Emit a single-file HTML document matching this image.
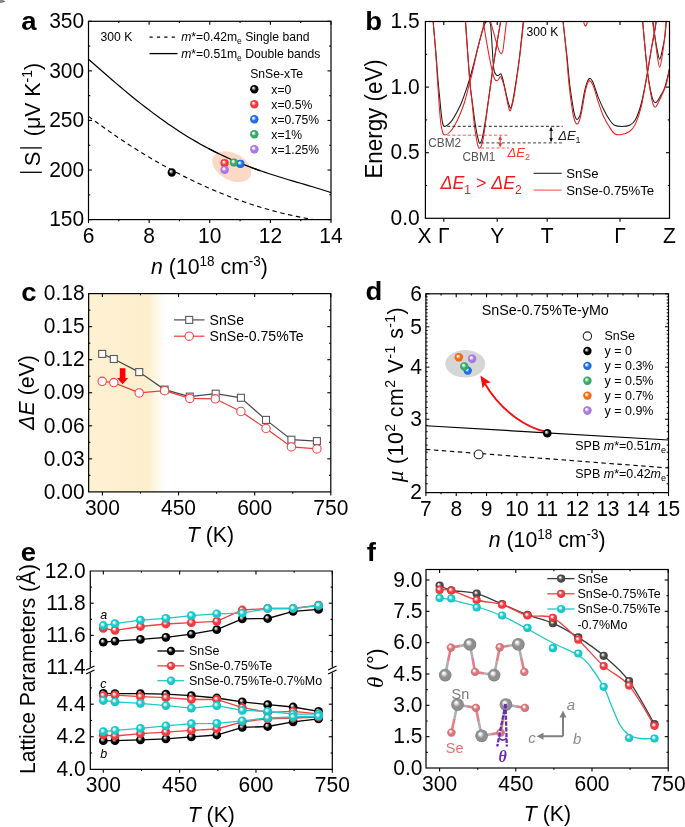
<!DOCTYPE html><html><head><meta charset="utf-8"><style>html,body{margin:0;padding:0;background:#fff;overflow:hidden}svg{display:block;will-change:transform}</style></head><body>
<svg width="685" height="827" viewBox="0 0 685 827" font-family='"Liberation Sans", sans-serif'>
<defs>
<radialGradient id="gk" cx="0.5" cy="0.5" r="0.5" fx="0.36" fy="0.32"><stop offset="0" stop-color="#e8e8e8"/><stop offset="0.12" stop-color="#e8e8e8"/><stop offset="0.3" stop-color="#8a8a8a"/><stop offset="0.55" stop-color="#000000"/><stop offset="0.88" stop-color="#000000"/><stop offset="1" stop-color="#000000"/></radialGradient>
<radialGradient id="gr" cx="0.5" cy="0.5" r="0.5" fx="0.36" fy="0.32"><stop offset="0" stop-color="#ffffff"/><stop offset="0.12" stop-color="#ffffff"/><stop offset="0.3" stop-color="#f8a8aa"/><stop offset="0.55" stop-color="#f03a3e"/><stop offset="0.88" stop-color="#f03a3e"/><stop offset="1" stop-color="#d92a2e"/></radialGradient>
<radialGradient id="gb" cx="0.5" cy="0.5" r="0.5" fx="0.36" fy="0.32"><stop offset="0" stop-color="#ffffff"/><stop offset="0.12" stop-color="#ffffff"/><stop offset="0.3" stop-color="#a5c6f5"/><stop offset="0.55" stop-color="#1c6de6"/><stop offset="0.88" stop-color="#1c6de6"/><stop offset="1" stop-color="#1258c8"/></radialGradient>
<radialGradient id="gg" cx="0.5" cy="0.5" r="0.5" fx="0.36" fy="0.32"><stop offset="0" stop-color="#ffffff"/><stop offset="0.12" stop-color="#ffffff"/><stop offset="0.3" stop-color="#b0e0c2"/><stop offset="0.55" stop-color="#35ab68"/><stop offset="0.88" stop-color="#35ab68"/><stop offset="1" stop-color="#248f52"/></radialGradient>
<radialGradient id="gp" cx="0.5" cy="0.5" r="0.5" fx="0.36" fy="0.32"><stop offset="0" stop-color="#ffffff"/><stop offset="0.12" stop-color="#ffffff"/><stop offset="0.3" stop-color="#e2d0f7"/><stop offset="0.55" stop-color="#ac78e4"/><stop offset="0.88" stop-color="#ac78e4"/><stop offset="1" stop-color="#9258d0"/></radialGradient>
<radialGradient id="go" cx="0.5" cy="0.5" r="0.5" fx="0.36" fy="0.32"><stop offset="0" stop-color="#ffffff"/><stop offset="0.12" stop-color="#ffffff"/><stop offset="0.3" stop-color="#fbc39a"/><stop offset="0.55" stop-color="#f66b12"/><stop offset="0.88" stop-color="#f66b12"/><stop offset="1" stop-color="#d85000"/></radialGradient>
<radialGradient id="gc" cx="0.5" cy="0.5" r="0.5" fx="0.36" fy="0.32"><stop offset="0" stop-color="#ffffff"/><stop offset="0.12" stop-color="#ffffff"/><stop offset="0.3" stop-color="#a8eeee"/><stop offset="0.55" stop-color="#18c9cc"/><stop offset="0.88" stop-color="#18c9cc"/><stop offset="1" stop-color="#0eb2b6"/></radialGradient>
<radialGradient id="gdg" cx="0.5" cy="0.5" r="0.5" fx="0.36" fy="0.32"><stop offset="0" stop-color="#eeeeee"/><stop offset="0.12" stop-color="#eeeeee"/><stop offset="0.3" stop-color="#a8a8a8"/><stop offset="0.55" stop-color="#484848"/><stop offset="0.88" stop-color="#484848"/><stop offset="1" stop-color="#303030"/></radialGradient>
<radialGradient id="gsn" cx="0.5" cy="0.5" r="0.5" fx="0.36" fy="0.32"><stop offset="0" stop-color="#ffffff"/><stop offset="0.12" stop-color="#ffffff"/><stop offset="0.3" stop-color="#d0d0d0"/><stop offset="0.55" stop-color="#8f8f8f"/><stop offset="0.88" stop-color="#8f8f8f"/><stop offset="1" stop-color="#6e6e6e"/></radialGradient>
<radialGradient id="gse" cx="0.5" cy="0.5" r="0.5" fx="0.36" fy="0.32"><stop offset="0" stop-color="#ffffff"/><stop offset="0.12" stop-color="#ffffff"/><stop offset="0.3" stop-color="#f2c2c6"/><stop offset="0.55" stop-color="#d8747c"/><stop offset="0.88" stop-color="#d8747c"/><stop offset="1" stop-color="#b85a62"/></radialGradient>
<linearGradient id="cream" x1="0" x2="1" y1="0" y2="0"><stop offset="0" stop-color="#fef1d3"/><stop offset="0.77" stop-color="#fdefcc"/><stop offset="1" stop-color="#fdf0cf" stop-opacity="0"/></linearGradient>
</defs>
<rect width="685" height="827" fill="#fff"/>
<ellipse cx="1.2" cy="1.3" rx="2.2" ry="1.6" fill="#8a8a8a"/><ellipse cx="3.6" cy="1.4" rx="1.3" ry="0.8" fill="#666"/>
<path d="M88.5,59.28 L92.5,62.79 L96.5,66.3 L100.5,69.8 L104.5,73.29 L108.5,76.75 L112.5,80.2 L116.5,83.61 L120.5,87 L124.5,90.35 L128.5,93.67 L132.5,96.95 L136.5,100.18 L140.5,103.36 L144.5,106.5 L148.5,109.58 L152.5,112.61 L156.5,115.58 L160.5,118.49 L164.5,121.35 L168.5,124.14 L172.5,126.87 L176.5,129.54 L180.5,132.14 L184.5,134.67 L188.5,137.14 L192.5,139.55 L196.5,141.88 L200.5,144.15 L204.5,146.36 L208.5,148.49 L212.5,150.57 L216.5,152.57 L220.5,154.52 L224.5,156.4 L228.5,158.22 L232.5,159.98 L236.5,161.68 L240.5,163.33 L244.5,164.92 L248.5,166.46 L252.5,167.95 L256.5,169.4 L260.5,170.8 L264.5,172.17 L268.5,173.49 L272.5,174.79 L276.5,176.05 L280.5,177.29 L284.5,178.5 L288.5,179.7 L292.5,180.88 L296.5,182.06 L300.5,183.23 L304.5,184.41 L308.5,185.59 L312.5,186.78 L316.5,187.99 L320.5,189.23 L324.5,190.49 L328.5,191.79 L331,192.62" fill="none" stroke="#000" stroke-width="1.2"/>
<path d="M88.5,116.35 L92.5,119.34 L96.5,122.29 L100.5,125.21 L104.5,128.07 L108.5,130.9 L112.5,133.68 L116.5,136.43 L120.5,139.13 L124.5,141.79 L128.5,144.4 L132.5,146.98 L136.5,149.51 L140.5,152 L144.5,154.45 L148.5,156.85 L152.5,159.22 L156.5,161.54 L160.5,163.82 L164.5,166.06 L168.5,168.26 L172.5,170.41 L176.5,172.52 L180.5,174.59 L184.5,176.62 L188.5,178.61 L192.5,180.55 L196.5,182.46 L200.5,184.32 L204.5,186.14 L208.5,187.91 L212.5,189.65 L216.5,191.34 L220.5,192.99 L224.5,194.6 L228.5,196.17 L232.5,197.69 L236.5,199.18 L240.5,200.62 L244.5,202.01 L248.5,203.37 L252.5,204.69 L256.5,205.96 L260.5,207.19 L264.5,208.38 L268.5,209.53 L272.5,210.63 L276.5,211.69 L280.5,212.72 L284.5,213.69 L288.5,214.63 L292.5,215.53 L296.5,216.38 L300.5,217.19 L304.5,217.96 L308.5,218.69 L312.5,219.37" fill="none" stroke="#000" stroke-width="1.15" stroke-dasharray="4.5,3.5"/>
<ellipse cx="231.8" cy="166.6" rx="21" ry="13.5" transform="rotate(28 231.8 166.6)" fill="#fcd8c6"/>
<path d="M208.5,148.49 L212.5,150.57 L216.5,152.57 L220.5,154.52 L224.5,156.4 L228.5,158.22 L232.5,159.98 L236.5,161.68 L240.5,163.33 L244.5,164.92 L248.5,166.46 L252.5,167.95 L256.5,169.4 L260.5,170.8" fill="none" stroke="#000" stroke-width="1.3"/>
<circle cx="171.8" cy="172.5" r="4.2" fill="url(#gk)"/>
<circle cx="224.6" cy="163.1" r="4.1" fill="url(#gr)"/>
<circle cx="224.6" cy="169.8" r="4.1" fill="url(#gp)"/>
<circle cx="240.4" cy="163.9" r="4.1" fill="url(#gb)"/>
<circle cx="233.9" cy="162.5" r="4.1" fill="url(#gg)"/>
<rect x="88.5" y="21.3" width="242.5" height="198.3" fill="none" stroke="#000" stroke-width="1.2"/>
<line x1="88.5" y1="219.6" x2="88.5" y2="223.1" stroke="#000" stroke-width="1.1" />
<line x1="88.5" y1="21.3" x2="88.5" y2="24.8" stroke="#000" stroke-width="1.1" />
<line x1="118.81" y1="219.6" x2="118.81" y2="221.35" stroke="#000" stroke-width="1.1" />
<line x1="118.81" y1="21.3" x2="118.81" y2="23.05" stroke="#000" stroke-width="1.1" />
<line x1="149.12" y1="219.6" x2="149.12" y2="223.1" stroke="#000" stroke-width="1.1" />
<line x1="149.12" y1="21.3" x2="149.12" y2="24.8" stroke="#000" stroke-width="1.1" />
<line x1="179.44" y1="219.6" x2="179.44" y2="221.35" stroke="#000" stroke-width="1.1" />
<line x1="179.44" y1="21.3" x2="179.44" y2="23.05" stroke="#000" stroke-width="1.1" />
<line x1="209.75" y1="219.6" x2="209.75" y2="223.1" stroke="#000" stroke-width="1.1" />
<line x1="209.75" y1="21.3" x2="209.75" y2="24.8" stroke="#000" stroke-width="1.1" />
<line x1="240.06" y1="219.6" x2="240.06" y2="221.35" stroke="#000" stroke-width="1.1" />
<line x1="240.06" y1="21.3" x2="240.06" y2="23.05" stroke="#000" stroke-width="1.1" />
<line x1="270.38" y1="219.6" x2="270.38" y2="223.1" stroke="#000" stroke-width="1.1" />
<line x1="270.38" y1="21.3" x2="270.38" y2="24.8" stroke="#000" stroke-width="1.1" />
<line x1="300.69" y1="219.6" x2="300.69" y2="221.35" stroke="#000" stroke-width="1.1" />
<line x1="300.69" y1="21.3" x2="300.69" y2="23.05" stroke="#000" stroke-width="1.1" />
<line x1="331" y1="219.6" x2="331" y2="223.1" stroke="#000" stroke-width="1.1" />
<line x1="331" y1="21.3" x2="331" y2="24.8" stroke="#000" stroke-width="1.1" />
<line x1="88.5" y1="219.6" x2="92" y2="219.6" stroke="#000" stroke-width="1.1" />
<line x1="331" y1="219.6" x2="327.5" y2="219.6" stroke="#000" stroke-width="1.1" />
<line x1="88.5" y1="194.81" x2="90.25" y2="194.81" stroke="#000" stroke-width="1.1" />
<line x1="331" y1="194.81" x2="329.25" y2="194.81" stroke="#000" stroke-width="1.1" />
<line x1="88.5" y1="170.02" x2="92" y2="170.02" stroke="#000" stroke-width="1.1" />
<line x1="331" y1="170.02" x2="327.5" y2="170.02" stroke="#000" stroke-width="1.1" />
<line x1="88.5" y1="145.24" x2="90.25" y2="145.24" stroke="#000" stroke-width="1.1" />
<line x1="331" y1="145.24" x2="329.25" y2="145.24" stroke="#000" stroke-width="1.1" />
<line x1="88.5" y1="120.45" x2="92" y2="120.45" stroke="#000" stroke-width="1.1" />
<line x1="331" y1="120.45" x2="327.5" y2="120.45" stroke="#000" stroke-width="1.1" />
<line x1="88.5" y1="95.66" x2="90.25" y2="95.66" stroke="#000" stroke-width="1.1" />
<line x1="331" y1="95.66" x2="329.25" y2="95.66" stroke="#000" stroke-width="1.1" />
<line x1="88.5" y1="70.88" x2="92" y2="70.88" stroke="#000" stroke-width="1.1" />
<line x1="331" y1="70.88" x2="327.5" y2="70.88" stroke="#000" stroke-width="1.1" />
<line x1="88.5" y1="46.09" x2="90.25" y2="46.09" stroke="#000" stroke-width="1.1" />
<line x1="331" y1="46.09" x2="329.25" y2="46.09" stroke="#000" stroke-width="1.1" />
<line x1="88.5" y1="21.3" x2="92" y2="21.3" stroke="#000" stroke-width="1.1" />
<line x1="331" y1="21.3" x2="327.5" y2="21.3" stroke="#000" stroke-width="1.1" />
<text transform="translate(88.5 242.63) scale(1 1.04)" font-size="21" text-anchor="middle" >6</text>
<text transform="translate(149.12 242.63) scale(1 1.04)" font-size="21" text-anchor="middle" >8</text>
<text transform="translate(209.75 242.63) scale(1 1.04)" font-size="21" text-anchor="middle" >10</text>
<text transform="translate(270.38 242.63) scale(1 1.04)" font-size="21" text-anchor="middle" >12</text>
<text transform="translate(331 242.63) scale(1 1.04)" font-size="21" text-anchor="middle" >14</text>
<text transform="translate(84.2 226.33) scale(1 1.04)" font-size="21" text-anchor="end" >150</text>
<text transform="translate(84.2 176.76) scale(1 1.04)" font-size="21" text-anchor="end" >200</text>
<text transform="translate(84.2 127.18) scale(1 1.04)" font-size="21" text-anchor="end" >250</text>
<text transform="translate(84.2 77.61) scale(1 1.04)" font-size="21" text-anchor="end" >300</text>
<text transform="translate(84.2 28.03) scale(1 1.04)" font-size="21" text-anchor="end" >350</text>
<text transform="translate(209.5 274.2) scale(1 1.03)" font-size="21.3" text-anchor="middle" ><tspan font-style="italic">n</tspan> (10<tspan font-size="13.5" dy="-8">18</tspan><tspan dy="8"> cm</tspan><tspan font-size="13.5" dy="-8">-3</tspan><tspan dy="8">)</tspan></text>
<g transform="translate(41.3 172.5) rotate(-90)"><line x1="0.2" y1="-21.2" x2="0.2" y2="0.5" stroke="#000" stroke-width="1.3"/><line x1="24.6" y1="-21.2" x2="24.6" y2="0.5" stroke="#000" stroke-width="1.3"/><text x="6.2" y="-1.0" font-size="22">S</text><text x="36.3" y="-1.0" font-size="21.3">(μV K<tspan font-size="14" dy="-8.3">-1</tspan><tspan dy="8.3">)</tspan></text></g>
<text transform="translate(36.6 30.1) scale(1.1 1)" font-size="25" text-anchor="end" font-weight="bold" >a</text>
<text transform="translate(100.4 41.3) scale(1 1.03)" font-size="12.2" >300 K</text>
<line x1="149.5" y1="37.2" x2="177.5" y2="37.2" stroke="#000" stroke-width="1.2" stroke-dasharray="3.2,4.2"/>
<line x1="149.5" y1="53.6" x2="177.5" y2="53.6" stroke="#000" stroke-width="1.3" />
<text transform="translate(181.2 41.3) scale(1 1.03)" font-size="12.2" ><tspan font-style="italic">m</tspan>*=0.42m<tspan font-size="8.5" dy="3">e</tspan><tspan dy="-3"> Single band</tspan></text>
<text transform="translate(181.2 57.7) scale(1 1.03)" font-size="12.2" ><tspan font-style="italic">m</tspan>*=0.51m<tspan font-size="8.5" dy="3">e</tspan><tspan dy="-3"> Double bands</tspan></text>
<text transform="translate(250.2 77.6) scale(1 1.03)" font-size="12.2" >SnSe-xTe</text>
<circle cx="254.3" cy="89.2" r="4.2" fill="url(#gk)"/>
<text transform="translate(271.3 93.5) scale(1 1.03)" font-size="12.2" >x=0</text>
<circle cx="254.3" cy="104.22" r="4.2" fill="url(#gr)"/>
<text transform="translate(271.3 108.52) scale(1 1.03)" font-size="12.2" >x=0.5%</text>
<circle cx="254.3" cy="119.24" r="4.2" fill="url(#gb)"/>
<text transform="translate(271.3 123.54) scale(1 1.03)" font-size="12.2" >x=0.75%</text>
<circle cx="254.3" cy="134.26" r="4.2" fill="url(#gg)"/>
<text transform="translate(271.3 138.56) scale(1 1.03)" font-size="12.2" >x=1%</text>
<circle cx="254.3" cy="149.28" r="4.2" fill="url(#gp)"/>
<text transform="translate(271.3 153.58) scale(1 1.03)" font-size="12.2" >x=1.25%</text>
<clipPath id="clipb"><rect x="425.4" y="21.5" width="244.1" height="196.8"/></clipPath>
<g clip-path="url(#clipb)" fill="none" stroke-width="1.05">
<path d="M432.9,10 C432.95,11.93 432.72,14.7 433.2,21.6 C433.68,28.5 435,41.67 435.8,51.4 C436.6,61.13 437.3,71.73 438,80 C438.7,88.27 439.42,95 440,101 C440.58,107 441,112.08 441.5,116 C442,119.92 442.47,122.77 443,124.5 C443.53,126.23 443.92,126.35 444.7,126.4 C445.48,126.45 446.5,125.77 447.7,124.8 C448.9,123.83 450.35,122.72 451.9,120.6 C453.45,118.48 455.3,115.33 457,112.1 C458.7,108.87 460.55,105 462.1,101.2 C463.65,97.4 465.02,93.08 466.3,89.3 C467.58,85.52 468.52,82.88 469.8,78.5 C471.08,74.12 472.63,68.25 474,63 C475.37,57.75 476.75,51.83 478,47 C479.25,42.17 480.4,37.78 481.5,34 C482.6,30.22 483.72,26.43 484.6,24.3 C485.48,22.17 486.08,21.77 486.8,21.2 C487.52,20.63 488.27,20.27 488.9,20.9 C489.53,21.53 490.1,21.45 490.6,25 C491.1,28.55 491.48,36.03 491.9,42.2 C492.32,48.37 492.7,57.12 493.1,62 C493.5,66.88 493.7,69.27 494.3,71.5 C494.9,73.73 495.95,74.78 496.7,75.4 C497.45,76.02 498.1,75.47 498.8,75.2 C499.5,74.93 500.28,73.33 500.9,73.8 C501.52,74.27 501.98,76.23 502.5,78 C503.02,79.77 503.25,81.12 504,84.4 C504.75,87.68 506.2,94.35 507,97.7 C507.8,101.05 508.23,102.78 508.8,104.5 C509.37,106.22 509.87,108 510.4,108 C510.93,108 511.37,107.02 512,104.5 C512.63,101.98 513.02,100.27 514.2,92.9 C515.38,85.53 517.58,72.18 519.1,60.3 C520.62,48.42 522.4,29.98 523.3,21.6 C524.2,13.22 524.3,11.93 524.5,10" stroke="#1a1a1a"/>
<path d="M464.8,10 C464.92,11.93 464.68,9.93 465.5,21.6 C466.32,33.27 468.58,66.73 469.7,80 C470.82,93.27 471.22,93.45 472.2,101.2 C473.18,108.95 474.53,119.88 475.6,126.5 C476.67,133.12 477.82,138.15 478.6,140.9 C479.38,143.65 479.67,143.57 480.3,143 C480.93,142.43 481.47,141.68 482.4,137.5 C483.33,133.32 484.22,128.97 485.9,117.9 C487.58,106.83 490.7,83.32 492.5,71.1 C494.3,58.88 495.37,52.78 496.7,44.6 C498.03,36.42 499.62,27.77 500.5,22 C501.38,16.23 501.75,12 502,10" stroke="#1a1a1a"/>
<path d="M562.3,10 C562.43,11.95 562.35,14.22 563.1,21.7 C563.85,29.18 565.7,44.47 566.8,54.9 C567.9,65.33 568.6,75.22 569.7,84.3 C570.8,93.38 572.47,103.95 573.4,109.4 C574.33,114.85 574.68,115.28 575.3,117 C575.92,118.72 576.5,119.62 577.1,119.7 C577.7,119.78 578.28,118.72 578.9,117.5 C579.52,116.28 579.87,116.7 580.8,112.4 C581.73,108.1 583.4,96.87 584.5,91.7 C585.6,86.53 586.47,83.62 587.4,81.4 C588.33,79.18 589.12,78.15 590.1,78.4 C591.08,78.65 592.02,79.95 593.3,82.9 C594.58,85.85 596.07,91.68 597.8,96.1 C599.53,100.52 601.75,105.47 603.7,109.4 C605.65,113.33 607.67,117.05 609.5,119.7 C611.33,122.35 612.6,124.17 614.7,125.3 C616.8,126.43 619.63,126.5 622.1,126.5 C624.57,126.5 627.28,126.43 629.5,125.3 C631.72,124.17 633.43,123.33 635.4,119.7 C637.37,116.07 639.33,111.12 641.3,103.5 C643.27,95.88 645.48,83.33 647.2,74 C648.92,64.67 650.38,54.38 651.6,47.5 C652.82,40.62 653.68,37.28 654.5,32.7 C655.32,28.12 655.92,23.78 656.5,20 C657.08,16.22 657.75,11.67 658,10" stroke="#1a1a1a"/>
<path d="M641.8,10 C641.95,11.95 641.8,11.77 642.7,21.7 C643.6,31.63 645.85,57.93 647.2,69.6 C648.55,81.27 649.83,86.63 650.8,91.7 C651.77,96.77 652.25,98.17 653,100 C653.75,101.83 654.5,102.62 655.3,102.7 C656.1,102.78 656.95,101.6 657.8,100.5 C658.65,99.4 659.23,98.3 660.4,96.1 C661.57,93.9 663.2,92.22 664.8,87.3 C666.4,82.38 668.8,71.98 670,66.6 C671.2,61.22 671.67,56.93 672,55" stroke="#1a1a1a"/>
<path d="M652,10 C652.17,11.95 652.58,17.67 653,21.7 C653.42,25.73 653.8,29.48 654.5,34.2 C655.2,38.92 656.33,45.82 657.2,50 C658.07,54.18 658.85,59.3 659.7,59.3 C660.55,59.3 661.45,53.68 662.3,50 C663.15,46.32 664.13,41.92 664.8,37.2 C665.47,32.48 665.93,26.23 666.3,21.7 C666.67,17.17 666.88,11.95 667,10" stroke="#1a1a1a"/>
<path d="M432.9,10 C432.95,11.93 432.75,14.7 433.2,21.6 C433.65,28.5 434.88,41.67 435.6,51.4 C436.32,61.13 436.9,71 437.5,80 C438.1,89 438.63,98.07 439.2,105.4 C439.77,112.73 440.27,119.35 440.9,124 C441.53,128.65 442.28,131.47 443,133.3 C443.72,135.13 444.13,135.13 445.2,135 C446.27,134.87 447.85,134.05 449.4,132.5 C450.95,130.95 452.82,128.53 454.5,125.7 C456.18,122.87 457.82,119.45 459.5,115.5 C461.18,111.55 462.97,107.22 464.6,102 C466.23,96.78 468.15,88.53 469.3,84.2 C470.45,79.87 470.05,82.12 471.5,76 C472.95,69.88 475.88,56.33 478,47.5 C480.12,38.67 482.87,28.58 484.2,23 C485.53,17.42 485.7,15.5 486,14" stroke="#ee1c1c"/>
<path d="M482.8,10 C482.9,11.93 482.58,15.23 483.4,21.6 C484.22,27.97 486.18,39.75 487.7,48.2 C489.22,56.65 491.3,67.07 492.5,72.3 C493.7,77.53 494.2,78.22 494.9,79.6 C495.6,80.98 496.1,80.62 496.7,80.6 C497.3,80.58 497.9,80.17 498.5,79.5 C499.1,78.83 499.68,76.52 500.3,76.6 C500.92,76.68 501.58,78.5 502.2,80 C502.82,81.5 503.2,82.25 504,85.6 C504.8,88.95 506.22,96.45 507,100.1 C507.78,103.75 508.2,105.68 508.7,107.5 C509.2,109.32 509.53,111 510,111 C510.47,111 510.8,110.12 511.5,107.5 C512.2,104.88 512.93,102.97 514.2,95.3 C515.47,87.63 517.52,73.78 519.1,61.5 C520.68,49.22 522.72,30.18 523.7,21.6 C524.68,13.02 524.78,11.93 525,10" stroke="#ee1c1c"/>
<path d="M464.8,10 C464.92,11.93 464.68,9.93 465.5,21.6 C466.32,33.27 468.62,66.6 469.7,80 C470.78,93.4 471.2,94.33 472,102 C472.8,109.67 473.75,119.8 474.5,126 C475.25,132.2 475.75,135.52 476.5,139.2 C477.25,142.88 478.02,147.53 479,148.1 C479.98,148.67 481.25,147.28 482.4,142.6 C483.55,137.92 484.22,131.92 485.9,120 C487.58,108.08 490.7,83.67 492.5,71.1 C494.3,58.53 495.37,52.78 496.7,44.6 C498.03,36.42 499.62,27.77 500.5,22 C501.38,16.23 501.75,12 502,10" stroke="#ee1c1c"/>
<path d="M490,10 C490.12,11.93 490.12,17.93 490.7,21.6 C491.28,25.27 492.5,28.37 493.5,32 C494.5,35.63 495.7,40.15 496.7,43.4 C497.7,46.65 498.68,49.8 499.5,51.5 C500.32,53.2 501.02,53.85 501.6,53.6 C502.18,53.35 502.6,51.9 503,50 C503.4,48.1 503.43,46.93 504,42.2 C504.57,37.47 505.9,26.97 506.4,21.6 C506.9,16.23 506.9,11.93 507,10" stroke="#ee1c1c"/>
<path d="M562.3,10 C562.43,11.95 562.4,14.22 563.1,21.7 C563.8,29.18 565.52,44.47 566.5,54.9 C567.48,65.33 567.97,74.72 569,84.3 C570.03,93.88 571.7,106.2 572.7,112.4 C573.7,118.6 574.27,119.55 575,121.5 C575.73,123.45 576.38,124.18 577.1,124.1 C577.82,124.02 578.57,122.95 579.3,121 C580.03,119.05 580.52,117.28 581.5,112.4 C582.48,107.52 584.2,96.52 585.2,91.7 C586.2,86.88 586.77,85.33 587.5,83.5 C588.23,81.67 588.63,80.32 589.6,80.7 C590.57,81.08 591.93,82.48 593.3,85.8 C594.67,89.12 596.07,95.43 597.8,100.6 C599.53,105.77 601.75,112.38 603.7,116.8 C605.65,121.22 607.67,124.28 609.5,127.1 C611.33,129.92 612.85,132.43 614.7,133.7 C616.55,134.97 618.13,135.07 620.6,134.7 C623.07,134.33 627.03,133.27 629.5,131.5 C631.97,129.73 633.43,128.28 635.4,124.1 C637.37,119.92 639.33,114.75 641.3,106.4 C643.27,98.05 645.48,83.82 647.2,74 C648.92,64.18 650.38,54.67 651.6,47.5 C652.82,40.33 653.68,35.92 654.5,31 C655.32,26.08 655.92,21.5 656.5,18 C657.08,14.5 657.75,11.33 658,10" stroke="#ee1c1c"/>
<path d="M641.8,10 C641.95,11.95 641.8,11.77 642.7,21.7 C643.6,31.63 645.85,57.55 647.2,69.6 C648.55,81.65 649.83,88.27 650.8,94 C651.77,99.73 652.25,101.8 653,104 C653.75,106.2 654.5,107.28 655.3,107.2 C656.1,107.12 656.95,104.98 657.8,103.5 C658.65,102.02 658.98,101.5 660.4,98.3 C661.82,95.1 664.7,89.68 666.3,84.3 C667.9,78.92 669.05,70.88 670,66 C670.95,61.12 671.67,56.83 672,55" stroke="#ee1c1c"/>
<path d="M651.5,10 C651.67,11.95 651.95,17.37 652.5,21.7 C653.05,26.03 654,30.28 654.8,36 C655.6,41.72 656.48,50.77 657.3,56 C658.12,61.23 658.88,67.4 659.7,67.4 C660.52,67.4 661.38,60.9 662.2,56 C663.02,51.1 663.97,43.72 664.6,38 C665.23,32.28 665.6,26.37 666,21.7 C666.4,17.03 666.83,11.95 667,10" stroke="#ee1c1c"/>
<path d="M583,15 C583.12,16.12 583.43,20.03 583.7,21.7 C583.97,23.37 584.3,24.27 584.6,25 C584.9,25.73 585.2,26.1 585.5,26.1 C585.8,26.1 586.08,25.73 586.4,25 C586.72,24.27 587.13,23.37 587.4,21.7 C587.67,20.03 587.9,16.12 588,15" stroke="#ee1c1c"/>
</g>
<line x1="447.2" y1="126.3" x2="562.8" y2="126.3" stroke="#222" stroke-width="1" stroke-dasharray="3,2.2"/>
<line x1="481" y1="142.9" x2="562.8" y2="142.9" stroke="#444" stroke-width="1" stroke-dasharray="3,2.2"/>
<line x1="447.2" y1="135.2" x2="509.1" y2="135.2" stroke="#f55" stroke-width="1" stroke-dasharray="3,2.2"/>
<line x1="481" y1="148" x2="509.1" y2="148" stroke="#f55" stroke-width="1" stroke-dasharray="3,2.2"/>
<path d="M551.1,128.1 V141.1" stroke="#111" stroke-width="1.1" fill="none"/>
<path d="M551.1,126.6 L549.3,131.1 L552.9,131.1 Z M551.1,142.6 L549.3,138.1 L552.9,138.1 Z" fill="#111"/>
<path d="M500.2,137 V146.2" stroke="#e33" stroke-width="1.1" fill="none"/>
<path d="M500.2,135.5 L498.4,140 L502,140 Z M500.2,147.7 L498.4,143.2 L502,143.2 Z" fill="#e33"/>
<text transform="translate(558.2 140) scale(1 1.03)" font-size="13" fill="#222" ><tspan font-style="italic">ΔE</tspan><tspan font-size="9" dy="3">1</tspan></text>
<text transform="translate(507.5 157.4) scale(1 1.03)" font-size="13" fill="#f33" ><tspan font-style="italic">ΔE</tspan><tspan font-size="9" dy="3">2</tspan></text>
<text transform="translate(428.3 146.8) scale(1 1.03)" font-size="11.8" fill="#555" >CBM2</text>
<text transform="translate(462.6 160.8) scale(1 1.03)" font-size="11.8" fill="#555" >CBM1</text>
<text transform="translate(440.5 189.4) scale(1 1.03)" font-size="17.8" fill="#f01818" ><tspan font-style="italic">ΔE</tspan><tspan font-size="12" dy="4.5">1</tspan><tspan dy="-4.5"> &gt; </tspan><tspan font-style="italic">ΔE</tspan><tspan font-size="12" dy="4.5">2</tspan></text>
<text transform="translate(526.5 36.1) scale(1 1.03)" font-size="12.2" >300 K</text>
<line x1="533.6" y1="173.3" x2="561.7" y2="173.3" stroke="#111" stroke-width="1" />
<line x1="533.6" y1="190.1" x2="561.7" y2="190.1" stroke="#f55" stroke-width="1.1" />
<text transform="translate(566.3 178.3) scale(1 1.03)" font-size="13.2" >SnSe</text>
<text transform="translate(566.3 195.3) scale(1 1.03)" font-size="13.2" >SnSe-0.75%Te</text>
<rect x="425.4" y="21.5" width="244.1" height="196.8" fill="none" stroke="#000" stroke-width="1.2"/>
<line x1="443.8" y1="218.3" x2="443.8" y2="221.8" stroke="#000" stroke-width="1.1" />
<line x1="443.8" y1="21.5" x2="443.8" y2="25" stroke="#000" stroke-width="1.1" />
<line x1="497.2" y1="218.3" x2="497.2" y2="221.8" stroke="#000" stroke-width="1.1" />
<line x1="497.2" y1="21.5" x2="497.2" y2="25" stroke="#000" stroke-width="1.1" />
<line x1="547.2" y1="218.3" x2="547.2" y2="221.8" stroke="#000" stroke-width="1.1" />
<line x1="547.2" y1="21.5" x2="547.2" y2="25" stroke="#000" stroke-width="1.1" />
<line x1="620" y1="218.3" x2="620" y2="221.8" stroke="#000" stroke-width="1.1" />
<line x1="620" y1="21.5" x2="620" y2="25" stroke="#000" stroke-width="1.1" />
<line x1="425.4" y1="185.5" x2="427.15" y2="185.5" stroke="#000" stroke-width="1.1" />
<line x1="669.5" y1="185.5" x2="667.75" y2="185.5" stroke="#000" stroke-width="1.1" />
<line x1="425.4" y1="152.7" x2="428.9" y2="152.7" stroke="#000" stroke-width="1.1" />
<line x1="669.5" y1="152.7" x2="666" y2="152.7" stroke="#000" stroke-width="1.1" />
<line x1="425.4" y1="119.9" x2="427.15" y2="119.9" stroke="#000" stroke-width="1.1" />
<line x1="669.5" y1="119.9" x2="667.75" y2="119.9" stroke="#000" stroke-width="1.1" />
<line x1="425.4" y1="87.1" x2="428.9" y2="87.1" stroke="#000" stroke-width="1.1" />
<line x1="669.5" y1="87.1" x2="666" y2="87.1" stroke="#000" stroke-width="1.1" />
<line x1="425.4" y1="54.3" x2="427.15" y2="54.3" stroke="#000" stroke-width="1.1" />
<line x1="669.5" y1="54.3" x2="667.75" y2="54.3" stroke="#000" stroke-width="1.1" />
<text transform="translate(419.8 225.03) scale(1 1.04)" font-size="21" text-anchor="end" >0.0</text>
<text transform="translate(419.8 159.43) scale(1 1.04)" font-size="21" text-anchor="end" >0.5</text>
<text transform="translate(419.8 93.83) scale(1 1.04)" font-size="21" text-anchor="end" >1.0</text>
<text transform="translate(419.8 28.23) scale(1 1.04)" font-size="21" text-anchor="end" >1.5</text>
<text transform="translate(424.5 243.4) scale(1 1.06)" font-size="21" text-anchor="middle" >X</text>
<text transform="translate(443.8 243.4) scale(1 1.06)" font-size="21" text-anchor="middle" >Γ</text>
<text transform="translate(497.2 243.4) scale(1 1.06)" font-size="21" text-anchor="middle" >Y</text>
<text transform="translate(547.2 243.4) scale(1 1.06)" font-size="21" text-anchor="middle" >T</text>
<text transform="translate(620 243.4) scale(1 1.06)" font-size="21" text-anchor="middle" >Γ</text>
<text transform="translate(669.5 243.4) scale(1 1.06)" font-size="21" text-anchor="middle" >Z</text>
<text transform="translate(382 118.9) rotate(-90) scale(1 1.03)" font-size="22.4" text-anchor="middle">Energy (eV)</text>
<text transform="translate(382 30.3) scale(1.1 1)" font-size="25" text-anchor="end" font-weight="bold" >b</text>
<rect x="88.65" y="293.6" width="76.85" height="198.3" fill="url(#cream)"/>
<path d="M102.2,353.9 L113.8,359 L139.2,372.1 L164.6,389.6 L189.8,396.6 L215.7,393.7 L240.9,397.8 L266,419.9 L291.4,439.7 L316.9,441.1" fill="none" stroke="#4a4a4a" stroke-width="1.2"/>
<path d="M102.2,381.3 L113.8,382.6 L139.2,392.9 L164.6,390.7 L189.8,398.4 L215.3,398.8 L240.9,411.5 L266,428.5 L291.4,446.9 L316.9,448.9" fill="none" stroke="#f03a3a" stroke-width="1.2"/>
<rect x="98.7" y="350.4" width="7" height="7" fill="#fff" stroke="#5a5a5a" stroke-width="1.1"/>
<rect x="110.3" y="355.5" width="7" height="7" fill="#fff" stroke="#5a5a5a" stroke-width="1.1"/>
<rect x="135.7" y="368.6" width="7" height="7" fill="#fff" stroke="#5a5a5a" stroke-width="1.1"/>
<rect x="161.1" y="386.1" width="7" height="7" fill="#fff" stroke="#5a5a5a" stroke-width="1.1"/>
<rect x="186.3" y="393.1" width="7" height="7" fill="#fff" stroke="#5a5a5a" stroke-width="1.1"/>
<rect x="212.2" y="390.2" width="7" height="7" fill="#fff" stroke="#5a5a5a" stroke-width="1.1"/>
<rect x="237.4" y="394.3" width="7" height="7" fill="#fff" stroke="#5a5a5a" stroke-width="1.1"/>
<rect x="262.5" y="416.4" width="7" height="7" fill="#fff" stroke="#5a5a5a" stroke-width="1.1"/>
<rect x="287.9" y="436.2" width="7" height="7" fill="#fff" stroke="#5a5a5a" stroke-width="1.1"/>
<rect x="313.4" y="437.6" width="7" height="7" fill="#fff" stroke="#5a5a5a" stroke-width="1.1"/>
<circle cx="102.2" cy="381.3" r="4.2" fill="#fff" stroke="#f04848" stroke-width="1.1"/>
<circle cx="113.8" cy="382.6" r="4.2" fill="#fff" stroke="#f04848" stroke-width="1.1"/>
<circle cx="139.2" cy="392.9" r="4.2" fill="#fff" stroke="#f04848" stroke-width="1.1"/>
<circle cx="164.6" cy="390.7" r="4.2" fill="#fff" stroke="#f04848" stroke-width="1.1"/>
<circle cx="189.8" cy="398.4" r="4.2" fill="#fff" stroke="#f04848" stroke-width="1.1"/>
<circle cx="215.3" cy="398.8" r="4.2" fill="#fff" stroke="#f04848" stroke-width="1.1"/>
<circle cx="240.9" cy="411.5" r="4.2" fill="#fff" stroke="#f04848" stroke-width="1.1"/>
<circle cx="266" cy="428.5" r="4.2" fill="#fff" stroke="#f04848" stroke-width="1.1"/>
<circle cx="291.4" cy="446.9" r="4.2" fill="#fff" stroke="#f04848" stroke-width="1.1"/>
<circle cx="316.9" cy="448.9" r="4.2" fill="#fff" stroke="#f04848" stroke-width="1.1"/>
<path d="M119.8,368.2 H125.4 V378.1 H128.2 L122.6,384.3 L117.1,378.1 H119.8 Z" fill="#ff0000"/>
<line x1="174" y1="319.9" x2="204.4" y2="319.9" stroke="#4a4a4a" stroke-width="1.2" />
<rect x="185.7" y="316.4" width="7" height="7" fill="#fff" stroke="#5a5a5a" stroke-width="1.1"/>
<line x1="174" y1="336.2" x2="204.4" y2="336.2" stroke="#f03a3a" stroke-width="1.2" />
<circle cx="189.2" cy="336.2" r="4.2" fill="#fff" stroke="#f04848" stroke-width="1.1"/>
<text transform="translate(209.6 324.5) scale(1 1.03)" font-size="14.1" >SnSe</text>
<text transform="translate(209.6 340.8) scale(1 1.03)" font-size="14.1" >SnSe-0.75%Te</text>
<rect x="88.65" y="293.6" width="242.15" height="198.3" fill="none" stroke="#000" stroke-width="1.2"/>
<line x1="102.4" y1="491.9" x2="102.4" y2="495.4" stroke="#000" stroke-width="1.1" />
<line x1="102.4" y1="293.6" x2="102.4" y2="297.1" stroke="#000" stroke-width="1.1" />
<line x1="140.47" y1="491.9" x2="140.47" y2="493.65" stroke="#000" stroke-width="1.1" />
<line x1="140.47" y1="293.6" x2="140.47" y2="295.35" stroke="#000" stroke-width="1.1" />
<line x1="178.53" y1="491.9" x2="178.53" y2="495.4" stroke="#000" stroke-width="1.1" />
<line x1="178.53" y1="293.6" x2="178.53" y2="297.1" stroke="#000" stroke-width="1.1" />
<line x1="216.6" y1="491.9" x2="216.6" y2="493.65" stroke="#000" stroke-width="1.1" />
<line x1="216.6" y1="293.6" x2="216.6" y2="295.35" stroke="#000" stroke-width="1.1" />
<line x1="254.67" y1="491.9" x2="254.67" y2="495.4" stroke="#000" stroke-width="1.1" />
<line x1="254.67" y1="293.6" x2="254.67" y2="297.1" stroke="#000" stroke-width="1.1" />
<line x1="292.73" y1="491.9" x2="292.73" y2="493.65" stroke="#000" stroke-width="1.1" />
<line x1="292.73" y1="293.6" x2="292.73" y2="295.35" stroke="#000" stroke-width="1.1" />
<line x1="330.8" y1="491.9" x2="330.8" y2="495.4" stroke="#000" stroke-width="1.1" />
<line x1="330.8" y1="293.6" x2="330.8" y2="297.1" stroke="#000" stroke-width="1.1" />
<line x1="88.65" y1="475.38" x2="90.4" y2="475.38" stroke="#000" stroke-width="1.1" />
<line x1="330.8" y1="475.38" x2="329.05" y2="475.38" stroke="#000" stroke-width="1.1" />
<line x1="88.65" y1="458.85" x2="92.15" y2="458.85" stroke="#000" stroke-width="1.1" />
<line x1="330.8" y1="458.85" x2="327.3" y2="458.85" stroke="#000" stroke-width="1.1" />
<line x1="88.65" y1="442.32" x2="90.4" y2="442.32" stroke="#000" stroke-width="1.1" />
<line x1="330.8" y1="442.32" x2="329.05" y2="442.32" stroke="#000" stroke-width="1.1" />
<line x1="88.65" y1="425.8" x2="92.15" y2="425.8" stroke="#000" stroke-width="1.1" />
<line x1="330.8" y1="425.8" x2="327.3" y2="425.8" stroke="#000" stroke-width="1.1" />
<line x1="88.65" y1="409.27" x2="90.4" y2="409.27" stroke="#000" stroke-width="1.1" />
<line x1="330.8" y1="409.27" x2="329.05" y2="409.27" stroke="#000" stroke-width="1.1" />
<line x1="88.65" y1="392.75" x2="92.15" y2="392.75" stroke="#000" stroke-width="1.1" />
<line x1="330.8" y1="392.75" x2="327.3" y2="392.75" stroke="#000" stroke-width="1.1" />
<line x1="88.65" y1="376.23" x2="90.4" y2="376.23" stroke="#000" stroke-width="1.1" />
<line x1="330.8" y1="376.23" x2="329.05" y2="376.23" stroke="#000" stroke-width="1.1" />
<line x1="88.65" y1="359.7" x2="92.15" y2="359.7" stroke="#000" stroke-width="1.1" />
<line x1="330.8" y1="359.7" x2="327.3" y2="359.7" stroke="#000" stroke-width="1.1" />
<line x1="88.65" y1="343.18" x2="90.4" y2="343.18" stroke="#000" stroke-width="1.1" />
<line x1="330.8" y1="343.18" x2="329.05" y2="343.18" stroke="#000" stroke-width="1.1" />
<line x1="88.65" y1="326.65" x2="92.15" y2="326.65" stroke="#000" stroke-width="1.1" />
<line x1="330.8" y1="326.65" x2="327.3" y2="326.65" stroke="#000" stroke-width="1.1" />
<line x1="88.65" y1="310.12" x2="90.4" y2="310.12" stroke="#000" stroke-width="1.1" />
<line x1="330.8" y1="310.12" x2="329.05" y2="310.12" stroke="#000" stroke-width="1.1" />
<text transform="translate(102.4 514.93) scale(1 1.04)" font-size="21" text-anchor="middle" >300</text>
<text transform="translate(178.53 514.93) scale(1 1.04)" font-size="21" text-anchor="middle" >450</text>
<text transform="translate(254.67 514.93) scale(1 1.04)" font-size="21" text-anchor="middle" >600</text>
<text transform="translate(330.8 514.93) scale(1 1.04)" font-size="21" text-anchor="middle" >750</text>
<text transform="translate(84.6 498.63) scale(1 1.04)" font-size="21" text-anchor="end" >0.00</text>
<text transform="translate(84.6 465.58) scale(1 1.04)" font-size="21" text-anchor="end" >0.03</text>
<text transform="translate(84.6 432.53) scale(1 1.04)" font-size="21" text-anchor="end" >0.06</text>
<text transform="translate(84.6 399.48) scale(1 1.04)" font-size="21" text-anchor="end" >0.09</text>
<text transform="translate(84.6 366.43) scale(1 1.04)" font-size="21" text-anchor="end" >0.12</text>
<text transform="translate(84.6 333.38) scale(1 1.04)" font-size="21" text-anchor="end" >0.15</text>
<text transform="translate(84.6 300.33) scale(1 1.04)" font-size="21" text-anchor="end" >0.18</text>
<text transform="translate(210.5 541.6) scale(1 1.03)" font-size="21.3" text-anchor="middle" ><tspan font-style="italic">T</tspan> (K)</text>
<text transform="translate(33.5 392.4) rotate(-90) scale(1 1.03)" font-size="21.3" text-anchor="middle"><tspan font-style="italic">ΔE</tspan> (eV)</text>
<text transform="translate(36.6 300.5) scale(1.1 1)" font-size="25" text-anchor="end" font-weight="bold" >c</text>
<line x1="425.9" y1="425.75" x2="668.5" y2="440" stroke="#000" stroke-width="1.2" />
<line x1="425.9" y1="449.4" x2="668.5" y2="468" stroke="#000" stroke-width="1.15" stroke-dasharray="4.5,3.5"/>
<ellipse cx="465.2" cy="363.8" rx="20" ry="13.7" fill="#d6d6d6"/>
<circle cx="458.8" cy="357.3" r="4.2" fill="url(#go)"/>
<circle cx="472.1" cy="358.8" r="4.2" fill="url(#gp)"/>
<circle cx="467.7" cy="370.6" r="4.2" fill="url(#gb)"/>
<circle cx="464.3" cy="366.4" r="4.2" fill="url(#gg)"/>
<path d="M546,431.8 C528,428 502,413 484.5,383" fill="none" stroke="#f51010" stroke-width="1.9"/>
<path d="M480.4,375.6 L490.8,382.6 L485.6,383.6 L482.6,388.4 Z" fill="#f51010"/>
<circle cx="547.3" cy="433.3" r="4.3" fill="url(#gk)"/>
<circle cx="478.6" cy="454.4" r="4.4" fill="#fff" stroke="#222" stroke-width="1.1"/>
<text transform="translate(666 450.3) scale(1 1.03)" font-size="12.5" text-anchor="end" >SPB <tspan font-style="italic">m</tspan>*=0.51<tspan font-style="italic">m</tspan><tspan font-size="9" dy="3">e</tspan></text>
<text transform="translate(666 478.3) scale(1 1.03)" font-size="12.5" text-anchor="end" >SPB <tspan font-style="italic">m</tspan>*=0.42<tspan font-style="italic">m</tspan><tspan font-size="9" dy="3">e</tspan></text>
<text transform="translate(545.2 315.4) scale(1 1.03)" font-size="14.3" text-anchor="middle" >SnSe-0.75%Te-yMo</text>
<circle cx="587.4" cy="336.1" r="4.2" fill="#fff" stroke="#222" stroke-width="1.1"/>
<text transform="translate(604.5 340.4) scale(1 1.03)" font-size="12.5" >SnSe</text>
<circle cx="587.4" cy="350.98" r="4.2" fill="url(#gk)"/>
<text transform="translate(604.5 355.28) scale(1 1.03)" font-size="12.5" >y = 0</text>
<circle cx="587.4" cy="365.86" r="4.2" fill="url(#gb)"/>
<text transform="translate(604.5 370.16) scale(1 1.03)" font-size="12.5" >y = 0.3%</text>
<circle cx="587.4" cy="380.74" r="4.2" fill="url(#gg)"/>
<text transform="translate(604.5 385.04) scale(1 1.03)" font-size="12.5" >y = 0.5%</text>
<circle cx="587.4" cy="395.62" r="4.2" fill="url(#go)"/>
<text transform="translate(604.5 399.92) scale(1 1.03)" font-size="12.5" >y = 0.7%</text>
<circle cx="587.4" cy="410.5" r="4.2" fill="url(#gp)"/>
<text transform="translate(604.5 414.8) scale(1 1.03)" font-size="12.5" >y = 0.9%</text>
<rect x="425.9" y="293.8" width="242.6" height="198.8" fill="none" stroke="#000" stroke-width="1.2"/>
<line x1="425.9" y1="492.6" x2="425.9" y2="496.1" stroke="#000" stroke-width="1.1" />
<line x1="425.9" y1="293.8" x2="425.9" y2="297.3" stroke="#000" stroke-width="1.1" />
<line x1="441.06" y1="492.6" x2="441.06" y2="494.35" stroke="#000" stroke-width="1.1" />
<line x1="441.06" y1="293.8" x2="441.06" y2="295.55" stroke="#000" stroke-width="1.1" />
<line x1="456.22" y1="492.6" x2="456.22" y2="496.1" stroke="#000" stroke-width="1.1" />
<line x1="456.22" y1="293.8" x2="456.22" y2="297.3" stroke="#000" stroke-width="1.1" />
<line x1="471.39" y1="492.6" x2="471.39" y2="494.35" stroke="#000" stroke-width="1.1" />
<line x1="471.39" y1="293.8" x2="471.39" y2="295.55" stroke="#000" stroke-width="1.1" />
<line x1="486.55" y1="492.6" x2="486.55" y2="496.1" stroke="#000" stroke-width="1.1" />
<line x1="486.55" y1="293.8" x2="486.55" y2="297.3" stroke="#000" stroke-width="1.1" />
<line x1="501.71" y1="492.6" x2="501.71" y2="494.35" stroke="#000" stroke-width="1.1" />
<line x1="501.71" y1="293.8" x2="501.71" y2="295.55" stroke="#000" stroke-width="1.1" />
<line x1="516.88" y1="492.6" x2="516.88" y2="496.1" stroke="#000" stroke-width="1.1" />
<line x1="516.88" y1="293.8" x2="516.88" y2="297.3" stroke="#000" stroke-width="1.1" />
<line x1="532.04" y1="492.6" x2="532.04" y2="494.35" stroke="#000" stroke-width="1.1" />
<line x1="532.04" y1="293.8" x2="532.04" y2="295.55" stroke="#000" stroke-width="1.1" />
<line x1="547.2" y1="492.6" x2="547.2" y2="496.1" stroke="#000" stroke-width="1.1" />
<line x1="547.2" y1="293.8" x2="547.2" y2="297.3" stroke="#000" stroke-width="1.1" />
<line x1="562.36" y1="492.6" x2="562.36" y2="494.35" stroke="#000" stroke-width="1.1" />
<line x1="562.36" y1="293.8" x2="562.36" y2="295.55" stroke="#000" stroke-width="1.1" />
<line x1="577.52" y1="492.6" x2="577.52" y2="496.1" stroke="#000" stroke-width="1.1" />
<line x1="577.52" y1="293.8" x2="577.52" y2="297.3" stroke="#000" stroke-width="1.1" />
<line x1="592.69" y1="492.6" x2="592.69" y2="494.35" stroke="#000" stroke-width="1.1" />
<line x1="592.69" y1="293.8" x2="592.69" y2="295.55" stroke="#000" stroke-width="1.1" />
<line x1="607.85" y1="492.6" x2="607.85" y2="496.1" stroke="#000" stroke-width="1.1" />
<line x1="607.85" y1="293.8" x2="607.85" y2="297.3" stroke="#000" stroke-width="1.1" />
<line x1="623.01" y1="492.6" x2="623.01" y2="494.35" stroke="#000" stroke-width="1.1" />
<line x1="623.01" y1="293.8" x2="623.01" y2="295.55" stroke="#000" stroke-width="1.1" />
<line x1="638.17" y1="492.6" x2="638.17" y2="496.1" stroke="#000" stroke-width="1.1" />
<line x1="638.17" y1="293.8" x2="638.17" y2="297.3" stroke="#000" stroke-width="1.1" />
<line x1="653.34" y1="492.6" x2="653.34" y2="494.35" stroke="#000" stroke-width="1.1" />
<line x1="653.34" y1="293.8" x2="653.34" y2="295.55" stroke="#000" stroke-width="1.1" />
<line x1="668.5" y1="492.6" x2="668.5" y2="496.1" stroke="#000" stroke-width="1.1" />
<line x1="668.5" y1="293.8" x2="668.5" y2="297.3" stroke="#000" stroke-width="1.1" />
<line x1="425.9" y1="492.6" x2="429.4" y2="492.6" stroke="#000" stroke-width="1" />
<line x1="668.5" y1="492.6" x2="665" y2="492.6" stroke="#000" stroke-width="1" />
<line x1="425.9" y1="483.77" x2="427.7" y2="483.77" stroke="#000" stroke-width="1" />
<line x1="668.5" y1="483.77" x2="666.7" y2="483.77" stroke="#000" stroke-width="1" />
<line x1="425.9" y1="475.35" x2="427.7" y2="475.35" stroke="#000" stroke-width="1" />
<line x1="668.5" y1="475.35" x2="666.7" y2="475.35" stroke="#000" stroke-width="1" />
<line x1="425.9" y1="467.31" x2="427.7" y2="467.31" stroke="#000" stroke-width="1" />
<line x1="668.5" y1="467.31" x2="666.7" y2="467.31" stroke="#000" stroke-width="1" />
<line x1="425.9" y1="459.61" x2="427.7" y2="459.61" stroke="#000" stroke-width="1" />
<line x1="668.5" y1="459.61" x2="666.7" y2="459.61" stroke="#000" stroke-width="1" />
<line x1="425.9" y1="452.22" x2="427.7" y2="452.22" stroke="#000" stroke-width="1" />
<line x1="668.5" y1="452.22" x2="666.7" y2="452.22" stroke="#000" stroke-width="1" />
<line x1="425.9" y1="445.12" x2="427.7" y2="445.12" stroke="#000" stroke-width="1" />
<line x1="668.5" y1="445.12" x2="666.7" y2="445.12" stroke="#000" stroke-width="1" />
<line x1="425.9" y1="438.29" x2="427.7" y2="438.29" stroke="#000" stroke-width="1" />
<line x1="668.5" y1="438.29" x2="666.7" y2="438.29" stroke="#000" stroke-width="1" />
<line x1="425.9" y1="431.71" x2="427.7" y2="431.71" stroke="#000" stroke-width="1" />
<line x1="668.5" y1="431.71" x2="666.7" y2="431.71" stroke="#000" stroke-width="1" />
<line x1="425.9" y1="425.36" x2="427.7" y2="425.36" stroke="#000" stroke-width="1" />
<line x1="668.5" y1="425.36" x2="666.7" y2="425.36" stroke="#000" stroke-width="1" />
<line x1="425.9" y1="419.23" x2="429.4" y2="419.23" stroke="#000" stroke-width="1" />
<line x1="668.5" y1="419.23" x2="665" y2="419.23" stroke="#000" stroke-width="1" />
<line x1="425.9" y1="413.3" x2="427.7" y2="413.3" stroke="#000" stroke-width="1" />
<line x1="668.5" y1="413.3" x2="666.7" y2="413.3" stroke="#000" stroke-width="1" />
<line x1="425.9" y1="407.55" x2="427.7" y2="407.55" stroke="#000" stroke-width="1" />
<line x1="668.5" y1="407.55" x2="666.7" y2="407.55" stroke="#000" stroke-width="1" />
<line x1="425.9" y1="401.98" x2="427.7" y2="401.98" stroke="#000" stroke-width="1" />
<line x1="668.5" y1="401.98" x2="666.7" y2="401.98" stroke="#000" stroke-width="1" />
<line x1="425.9" y1="396.58" x2="427.7" y2="396.58" stroke="#000" stroke-width="1" />
<line x1="668.5" y1="396.58" x2="666.7" y2="396.58" stroke="#000" stroke-width="1" />
<line x1="425.9" y1="391.33" x2="427.7" y2="391.33" stroke="#000" stroke-width="1" />
<line x1="668.5" y1="391.33" x2="666.7" y2="391.33" stroke="#000" stroke-width="1" />
<line x1="425.9" y1="386.24" x2="427.7" y2="386.24" stroke="#000" stroke-width="1" />
<line x1="668.5" y1="386.24" x2="666.7" y2="386.24" stroke="#000" stroke-width="1" />
<line x1="425.9" y1="381.28" x2="427.7" y2="381.28" stroke="#000" stroke-width="1" />
<line x1="668.5" y1="381.28" x2="666.7" y2="381.28" stroke="#000" stroke-width="1" />
<line x1="425.9" y1="376.45" x2="427.7" y2="376.45" stroke="#000" stroke-width="1" />
<line x1="668.5" y1="376.45" x2="666.7" y2="376.45" stroke="#000" stroke-width="1" />
<line x1="425.9" y1="371.75" x2="427.7" y2="371.75" stroke="#000" stroke-width="1" />
<line x1="668.5" y1="371.75" x2="666.7" y2="371.75" stroke="#000" stroke-width="1" />
<line x1="425.9" y1="367.17" x2="429.4" y2="367.17" stroke="#000" stroke-width="1" />
<line x1="668.5" y1="367.17" x2="665" y2="367.17" stroke="#000" stroke-width="1" />
<line x1="425.9" y1="362.7" x2="427.7" y2="362.7" stroke="#000" stroke-width="1" />
<line x1="668.5" y1="362.7" x2="666.7" y2="362.7" stroke="#000" stroke-width="1" />
<line x1="425.9" y1="358.34" x2="427.7" y2="358.34" stroke="#000" stroke-width="1" />
<line x1="668.5" y1="358.34" x2="666.7" y2="358.34" stroke="#000" stroke-width="1" />
<line x1="425.9" y1="354.08" x2="427.7" y2="354.08" stroke="#000" stroke-width="1" />
<line x1="668.5" y1="354.08" x2="666.7" y2="354.08" stroke="#000" stroke-width="1" />
<line x1="425.9" y1="349.92" x2="427.7" y2="349.92" stroke="#000" stroke-width="1" />
<line x1="668.5" y1="349.92" x2="666.7" y2="349.92" stroke="#000" stroke-width="1" />
<line x1="425.9" y1="345.86" x2="427.7" y2="345.86" stroke="#000" stroke-width="1" />
<line x1="668.5" y1="345.86" x2="666.7" y2="345.86" stroke="#000" stroke-width="1" />
<line x1="425.9" y1="341.88" x2="427.7" y2="341.88" stroke="#000" stroke-width="1" />
<line x1="668.5" y1="341.88" x2="666.7" y2="341.88" stroke="#000" stroke-width="1" />
<line x1="425.9" y1="337.99" x2="427.7" y2="337.99" stroke="#000" stroke-width="1" />
<line x1="668.5" y1="337.99" x2="666.7" y2="337.99" stroke="#000" stroke-width="1" />
<line x1="425.9" y1="334.18" x2="427.7" y2="334.18" stroke="#000" stroke-width="1" />
<line x1="668.5" y1="334.18" x2="666.7" y2="334.18" stroke="#000" stroke-width="1" />
<line x1="425.9" y1="330.45" x2="427.7" y2="330.45" stroke="#000" stroke-width="1" />
<line x1="668.5" y1="330.45" x2="666.7" y2="330.45" stroke="#000" stroke-width="1" />
<line x1="425.9" y1="326.79" x2="429.4" y2="326.79" stroke="#000" stroke-width="1" />
<line x1="668.5" y1="326.79" x2="665" y2="326.79" stroke="#000" stroke-width="1" />
<line x1="425.9" y1="323.21" x2="427.7" y2="323.21" stroke="#000" stroke-width="1" />
<line x1="668.5" y1="323.21" x2="666.7" y2="323.21" stroke="#000" stroke-width="1" />
<line x1="425.9" y1="319.69" x2="427.7" y2="319.69" stroke="#000" stroke-width="1" />
<line x1="668.5" y1="319.69" x2="666.7" y2="319.69" stroke="#000" stroke-width="1" />
<line x1="425.9" y1="316.25" x2="427.7" y2="316.25" stroke="#000" stroke-width="1" />
<line x1="668.5" y1="316.25" x2="666.7" y2="316.25" stroke="#000" stroke-width="1" />
<line x1="425.9" y1="312.87" x2="427.7" y2="312.87" stroke="#000" stroke-width="1" />
<line x1="668.5" y1="312.87" x2="666.7" y2="312.87" stroke="#000" stroke-width="1" />
<line x1="425.9" y1="309.55" x2="427.7" y2="309.55" stroke="#000" stroke-width="1" />
<line x1="668.5" y1="309.55" x2="666.7" y2="309.55" stroke="#000" stroke-width="1" />
<line x1="425.9" y1="306.28" x2="427.7" y2="306.28" stroke="#000" stroke-width="1" />
<line x1="668.5" y1="306.28" x2="666.7" y2="306.28" stroke="#000" stroke-width="1" />
<line x1="425.9" y1="303.08" x2="427.7" y2="303.08" stroke="#000" stroke-width="1" />
<line x1="668.5" y1="303.08" x2="666.7" y2="303.08" stroke="#000" stroke-width="1" />
<line x1="425.9" y1="299.93" x2="427.7" y2="299.93" stroke="#000" stroke-width="1" />
<line x1="668.5" y1="299.93" x2="666.7" y2="299.93" stroke="#000" stroke-width="1" />
<line x1="425.9" y1="296.84" x2="427.7" y2="296.84" stroke="#000" stroke-width="1" />
<line x1="668.5" y1="296.84" x2="666.7" y2="296.84" stroke="#000" stroke-width="1" />
<line x1="425.9" y1="293.8" x2="429.4" y2="293.8" stroke="#000" stroke-width="1" />
<line x1="668.5" y1="293.8" x2="665" y2="293.8" stroke="#000" stroke-width="1" />
<text transform="translate(425.9 515.63) scale(1 1.04)" font-size="21" text-anchor="middle" >7</text>
<text transform="translate(456.22 515.63) scale(1 1.04)" font-size="21" text-anchor="middle" >8</text>
<text transform="translate(486.55 515.63) scale(1 1.04)" font-size="21" text-anchor="middle" >9</text>
<text transform="translate(516.88 515.63) scale(1 1.04)" font-size="21" text-anchor="middle" >10</text>
<text transform="translate(547.2 515.63) scale(1 1.04)" font-size="21" text-anchor="middle" >11</text>
<text transform="translate(577.52 515.63) scale(1 1.04)" font-size="21" text-anchor="middle" >12</text>
<text transform="translate(607.85 515.63) scale(1 1.04)" font-size="21" text-anchor="middle" >13</text>
<text transform="translate(638.17 515.63) scale(1 1.04)" font-size="21" text-anchor="middle" >14</text>
<text transform="translate(668.5 515.63) scale(1 1.04)" font-size="21" text-anchor="middle" >15</text>
<text transform="translate(422 499.33) scale(1 1.04)" font-size="21" text-anchor="end" >2</text>
<text transform="translate(422 425.96) scale(1 1.04)" font-size="21" text-anchor="end" >3</text>
<text transform="translate(422 373.9) scale(1 1.04)" font-size="21" text-anchor="end" >4</text>
<text transform="translate(422 333.52) scale(1 1.04)" font-size="21" text-anchor="end" >5</text>
<text transform="translate(422 300.53) scale(1 1.04)" font-size="21" text-anchor="end" >6</text>
<text transform="translate(547.2 547.4) scale(1 1.03)" font-size="21.3" text-anchor="middle" ><tspan font-style="italic">n</tspan> (10<tspan font-size="13.5" dy="-8">18</tspan><tspan dy="8"> cm</tspan><tspan font-size="13.5" dy="-8">-3</tspan><tspan dy="8">)</tspan></text>
<text transform="translate(403.3 394.8) rotate(-90) scale(1 1.03)" font-size="21.3" text-anchor="middle" textLength="175" lengthAdjust="spacing"><tspan font-style="italic" font-family="Liberation Serif" font-size="23">μ</tspan> (10<tspan font-size="14" dy="-8.3">2</tspan><tspan dy="8.3"> cm</tspan><tspan font-size="14" dy="-8.3">2</tspan><tspan dy="8.3"> V</tspan><tspan font-size="14" dy="-8.3">-1</tspan><tspan dy="8.3"> s</tspan><tspan font-size="14" dy="-8.3">-1</tspan><tspan dy="8.3">)</tspan></text>
<text transform="translate(382.2 300.3) scale(1.1 1)" font-size="25" text-anchor="end" font-weight="bold" >d</text>
<path d="M103.3,642.2 L115,641.1 L140.45,639.4 L165.89,637.3 L191.34,634.1 L216.78,629.7 L242.23,618.9 L267.67,618.5 L293.12,611.3 L318.56,609.4" fill="none" stroke="#000" stroke-width="1.3"/>
<circle cx="103.3" cy="642.2" r="4.4" fill="url(#gk)"/>
<circle cx="115" cy="641.1" r="4.4" fill="url(#gk)"/>
<circle cx="140.45" cy="639.4" r="4.4" fill="url(#gk)"/>
<circle cx="165.89" cy="637.3" r="4.4" fill="url(#gk)"/>
<circle cx="191.34" cy="634.1" r="4.4" fill="url(#gk)"/>
<circle cx="216.78" cy="629.7" r="4.4" fill="url(#gk)"/>
<circle cx="242.23" cy="618.9" r="4.4" fill="url(#gk)"/>
<circle cx="267.67" cy="618.5" r="4.4" fill="url(#gk)"/>
<circle cx="293.12" cy="611.3" r="4.4" fill="url(#gk)"/>
<circle cx="318.56" cy="609.4" r="4.4" fill="url(#gk)"/>
<path d="M103.3,693.3 L115,693.7 L140.45,693.7 L165.89,694.2 L191.34,695.6 L216.78,698 L242.23,701.8 L267.67,704.7 L293.12,707 L318.56,711.3" fill="none" stroke="#000" stroke-width="1.3"/>
<circle cx="103.3" cy="693.3" r="4.4" fill="url(#gk)"/>
<circle cx="115" cy="693.7" r="4.4" fill="url(#gk)"/>
<circle cx="140.45" cy="693.7" r="4.4" fill="url(#gk)"/>
<circle cx="165.89" cy="694.2" r="4.4" fill="url(#gk)"/>
<circle cx="191.34" cy="695.6" r="4.4" fill="url(#gk)"/>
<circle cx="216.78" cy="698" r="4.4" fill="url(#gk)"/>
<circle cx="242.23" cy="701.8" r="4.4" fill="url(#gk)"/>
<circle cx="267.67" cy="704.7" r="4.4" fill="url(#gk)"/>
<circle cx="293.12" cy="707" r="4.4" fill="url(#gk)"/>
<circle cx="318.56" cy="711.3" r="4.4" fill="url(#gk)"/>
<path d="M103.3,740.7 L115,740.7 L140.45,739.8 L165.89,738.8 L191.34,736.9 L216.78,735 L242.23,727.4 L267.67,726.5 L293.12,721.8 L318.56,718.9" fill="none" stroke="#000" stroke-width="1.3"/>
<circle cx="103.3" cy="740.7" r="4.4" fill="url(#gk)"/>
<circle cx="115" cy="740.7" r="4.4" fill="url(#gk)"/>
<circle cx="140.45" cy="739.8" r="4.4" fill="url(#gk)"/>
<circle cx="165.89" cy="738.8" r="4.4" fill="url(#gk)"/>
<circle cx="191.34" cy="736.9" r="4.4" fill="url(#gk)"/>
<circle cx="216.78" cy="735" r="4.4" fill="url(#gk)"/>
<circle cx="242.23" cy="727.4" r="4.4" fill="url(#gk)"/>
<circle cx="267.67" cy="726.5" r="4.4" fill="url(#gk)"/>
<circle cx="293.12" cy="721.8" r="4.4" fill="url(#gk)"/>
<circle cx="318.56" cy="718.9" r="4.4" fill="url(#gk)"/>
<path d="M103.3,628.4 L115,630.3 L140.45,626.5 L165.89,624 L191.34,622.7 L216.78,621.4 L242.23,610 L267.67,608.5 L293.12,608.5 L318.56,605.2" fill="none" stroke="#f04040" stroke-width="1.3"/>
<circle cx="103.3" cy="628.4" r="4.4" fill="url(#gr)"/>
<circle cx="115" cy="630.3" r="4.4" fill="url(#gr)"/>
<circle cx="140.45" cy="626.5" r="4.4" fill="url(#gr)"/>
<circle cx="165.89" cy="624" r="4.4" fill="url(#gr)"/>
<circle cx="191.34" cy="622.7" r="4.4" fill="url(#gr)"/>
<circle cx="216.78" cy="621.4" r="4.4" fill="url(#gr)"/>
<circle cx="242.23" cy="610" r="4.4" fill="url(#gr)"/>
<circle cx="267.67" cy="608.5" r="4.4" fill="url(#gr)"/>
<circle cx="293.12" cy="608.5" r="4.4" fill="url(#gr)"/>
<circle cx="318.56" cy="605.2" r="4.4" fill="url(#gr)"/>
<path d="M103.3,695.6 L115,695.2 L140.45,696.7 L165.89,697.7 L191.34,699.5 L216.78,699.5 L242.23,707.5 L267.67,712.3 L293.12,711.3 L318.56,713.8" fill="none" stroke="#f04040" stroke-width="1.3"/>
<circle cx="103.3" cy="695.6" r="4.4" fill="url(#gr)"/>
<circle cx="115" cy="695.2" r="4.4" fill="url(#gr)"/>
<circle cx="140.45" cy="696.7" r="4.4" fill="url(#gr)"/>
<circle cx="165.89" cy="697.7" r="4.4" fill="url(#gr)"/>
<circle cx="191.34" cy="699.5" r="4.4" fill="url(#gr)"/>
<circle cx="216.78" cy="699.5" r="4.4" fill="url(#gr)"/>
<circle cx="242.23" cy="707.5" r="4.4" fill="url(#gr)"/>
<circle cx="267.67" cy="712.3" r="4.4" fill="url(#gr)"/>
<circle cx="293.12" cy="711.3" r="4.4" fill="url(#gr)"/>
<circle cx="318.56" cy="713.8" r="4.4" fill="url(#gr)"/>
<path d="M103.3,735 L115,736 L140.45,733.7 L165.89,732.2 L191.34,730.3 L216.78,729 L242.23,721.8 L267.67,718.9 L293.12,718 L318.56,717" fill="none" stroke="#f04040" stroke-width="1.3"/>
<circle cx="103.3" cy="735" r="4.4" fill="url(#gr)"/>
<circle cx="115" cy="736" r="4.4" fill="url(#gr)"/>
<circle cx="140.45" cy="733.7" r="4.4" fill="url(#gr)"/>
<circle cx="165.89" cy="732.2" r="4.4" fill="url(#gr)"/>
<circle cx="191.34" cy="730.3" r="4.4" fill="url(#gr)"/>
<circle cx="216.78" cy="729" r="4.4" fill="url(#gr)"/>
<circle cx="242.23" cy="721.8" r="4.4" fill="url(#gr)"/>
<circle cx="267.67" cy="718.9" r="4.4" fill="url(#gr)"/>
<circle cx="293.12" cy="718" r="4.4" fill="url(#gr)"/>
<circle cx="318.56" cy="717" r="4.4" fill="url(#gr)"/>
<path d="M103.3,625.5 L115,623.7 L140.45,620.2 L165.89,618.3 L191.34,615.7 L216.78,613.8 L242.23,613.2 L267.67,608.5 L293.12,608.5 L318.56,605.6" fill="none" stroke="#1ec8c8" stroke-width="1.3"/>
<circle cx="103.3" cy="625.5" r="4.4" fill="url(#gc)"/>
<circle cx="115" cy="623.7" r="4.4" fill="url(#gc)"/>
<circle cx="140.45" cy="620.2" r="4.4" fill="url(#gc)"/>
<circle cx="165.89" cy="618.3" r="4.4" fill="url(#gc)"/>
<circle cx="191.34" cy="615.7" r="4.4" fill="url(#gc)"/>
<circle cx="216.78" cy="613.8" r="4.4" fill="url(#gc)"/>
<circle cx="242.23" cy="613.2" r="4.4" fill="url(#gc)"/>
<circle cx="267.67" cy="608.5" r="4.4" fill="url(#gc)"/>
<circle cx="293.12" cy="608.5" r="4.4" fill="url(#gc)"/>
<circle cx="318.56" cy="605.6" r="4.4" fill="url(#gc)"/>
<path d="M103.3,700.5 L115,701.8 L140.45,703.3 L165.89,705.6 L191.34,708.1 L216.78,705.6 L242.23,710.4 L267.67,711.3 L293.12,714.2 L318.56,714.2" fill="none" stroke="#1ec8c8" stroke-width="1.3"/>
<circle cx="103.3" cy="700.5" r="4.4" fill="url(#gc)"/>
<circle cx="115" cy="701.8" r="4.4" fill="url(#gc)"/>
<circle cx="140.45" cy="703.3" r="4.4" fill="url(#gc)"/>
<circle cx="165.89" cy="705.6" r="4.4" fill="url(#gc)"/>
<circle cx="191.34" cy="708.1" r="4.4" fill="url(#gc)"/>
<circle cx="216.78" cy="705.6" r="4.4" fill="url(#gc)"/>
<circle cx="242.23" cy="710.4" r="4.4" fill="url(#gc)"/>
<circle cx="267.67" cy="711.3" r="4.4" fill="url(#gc)"/>
<circle cx="293.12" cy="714.2" r="4.4" fill="url(#gc)"/>
<circle cx="318.56" cy="714.2" r="4.4" fill="url(#gc)"/>
<path d="M103.3,731.6 L115,730.3 L140.45,728.4 L165.89,725.9 L191.34,723.7 L216.78,723.3 L242.23,720.8 L267.67,718 L293.12,717 L318.56,716.1" fill="none" stroke="#1ec8c8" stroke-width="1.3"/>
<circle cx="103.3" cy="731.6" r="4.4" fill="url(#gc)"/>
<circle cx="115" cy="730.3" r="4.4" fill="url(#gc)"/>
<circle cx="140.45" cy="728.4" r="4.4" fill="url(#gc)"/>
<circle cx="165.89" cy="725.9" r="4.4" fill="url(#gc)"/>
<circle cx="191.34" cy="723.7" r="4.4" fill="url(#gc)"/>
<circle cx="216.78" cy="723.3" r="4.4" fill="url(#gc)"/>
<circle cx="242.23" cy="720.8" r="4.4" fill="url(#gc)"/>
<circle cx="267.67" cy="718" r="4.4" fill="url(#gc)"/>
<circle cx="293.12" cy="717" r="4.4" fill="url(#gc)"/>
<circle cx="318.56" cy="716.1" r="4.4" fill="url(#gc)"/>
<text transform="translate(103.7 618.9) scale(1 1.03)" font-size="12.5" text-anchor="middle" font-style="italic" >a</text>
<text transform="translate(103.3 687.5) scale(1 1.03)" font-size="12.5" text-anchor="middle" font-style="italic" >c</text>
<text transform="translate(103.7 757.5) scale(1 1.03)" font-size="12.5" text-anchor="middle" font-style="italic" >b</text>
<line x1="157.4" y1="651" x2="184.2" y2="651" stroke="#000" stroke-width="1.3" />
<circle cx="171" cy="651" r="4.2" fill="url(#gk)"/>
<text transform="translate(188.9 655.4) scale(1 1.03)" font-size="12.5" >SnSe</text>
<line x1="157.4" y1="665.85" x2="184.2" y2="665.85" stroke="#f04040" stroke-width="1.3" />
<circle cx="171" cy="665.85" r="4.2" fill="url(#gr)"/>
<text transform="translate(188.9 670.25) scale(1 1.03)" font-size="12.5" >SnSe-0.75%Te</text>
<line x1="157.4" y1="680.7" x2="184.2" y2="680.7" stroke="#1ec8c8" stroke-width="1.3" />
<circle cx="171" cy="680.7" r="4.2" fill="url(#gc)"/>
<text transform="translate(188.9 685.1) scale(1 1.03)" font-size="12.5" >SnSe-0.75%Te-0.7%Mo</text>
<path d="M90.3,667.5 V571 H332.3 V667.5" fill="none" stroke="#000" stroke-width="1.2"/>
<path d="M90.3,672.5 V769.3 H332.3 V672.5" fill="none" stroke="#000" stroke-width="1.2"/>
<path d="M86.1,670 L94.5,666 M86.1,674 L94.5,670" stroke="#000" stroke-width="1.2"/>
<path d="M328.1,670 L336.5,666 M328.1,674 L336.5,670" stroke="#000" stroke-width="1.2"/>
<line x1="103.3" y1="769.3" x2="103.3" y2="772.8" stroke="#000" stroke-width="1.1" />
<line x1="103.3" y1="571" x2="103.3" y2="574.5" stroke="#000" stroke-width="1.1" />
<line x1="141.47" y1="769.3" x2="141.47" y2="771.05" stroke="#000" stroke-width="1.1" />
<line x1="141.47" y1="571" x2="141.47" y2="572.75" stroke="#000" stroke-width="1.1" />
<line x1="179.63" y1="769.3" x2="179.63" y2="772.8" stroke="#000" stroke-width="1.1" />
<line x1="179.63" y1="571" x2="179.63" y2="574.5" stroke="#000" stroke-width="1.1" />
<line x1="217.8" y1="769.3" x2="217.8" y2="771.05" stroke="#000" stroke-width="1.1" />
<line x1="217.8" y1="571" x2="217.8" y2="572.75" stroke="#000" stroke-width="1.1" />
<line x1="255.97" y1="769.3" x2="255.97" y2="772.8" stroke="#000" stroke-width="1.1" />
<line x1="255.97" y1="571" x2="255.97" y2="574.5" stroke="#000" stroke-width="1.1" />
<line x1="294.13" y1="769.3" x2="294.13" y2="771.05" stroke="#000" stroke-width="1.1" />
<line x1="294.13" y1="571" x2="294.13" y2="572.75" stroke="#000" stroke-width="1.1" />
<line x1="332.3" y1="769.3" x2="332.3" y2="772.8" stroke="#000" stroke-width="1.1" />
<line x1="332.3" y1="571" x2="332.3" y2="574.5" stroke="#000" stroke-width="1.1" />
<line x1="90.3" y1="651.5" x2="92.05" y2="651.5" stroke="#000" stroke-width="1.1" />
<line x1="332.3" y1="651.5" x2="330.55" y2="651.5" stroke="#000" stroke-width="1.1" />
<line x1="90.3" y1="635.4" x2="93.8" y2="635.4" stroke="#000" stroke-width="1.1" />
<line x1="332.3" y1="635.4" x2="328.8" y2="635.4" stroke="#000" stroke-width="1.1" />
<line x1="90.3" y1="619.3" x2="92.05" y2="619.3" stroke="#000" stroke-width="1.1" />
<line x1="332.3" y1="619.3" x2="330.55" y2="619.3" stroke="#000" stroke-width="1.1" />
<line x1="90.3" y1="603.2" x2="93.8" y2="603.2" stroke="#000" stroke-width="1.1" />
<line x1="332.3" y1="603.2" x2="328.8" y2="603.2" stroke="#000" stroke-width="1.1" />
<line x1="90.3" y1="587.1" x2="92.05" y2="587.1" stroke="#000" stroke-width="1.1" />
<line x1="332.3" y1="587.1" x2="330.55" y2="587.1" stroke="#000" stroke-width="1.1" />
<line x1="90.3" y1="753.02" x2="92.05" y2="753.02" stroke="#000" stroke-width="1.1" />
<line x1="332.3" y1="753.02" x2="330.55" y2="753.02" stroke="#000" stroke-width="1.1" />
<line x1="90.3" y1="736.75" x2="93.8" y2="736.75" stroke="#000" stroke-width="1.1" />
<line x1="332.3" y1="736.75" x2="328.8" y2="736.75" stroke="#000" stroke-width="1.1" />
<line x1="90.3" y1="720.48" x2="92.05" y2="720.48" stroke="#000" stroke-width="1.1" />
<line x1="332.3" y1="720.48" x2="330.55" y2="720.48" stroke="#000" stroke-width="1.1" />
<line x1="90.3" y1="704.2" x2="93.8" y2="704.2" stroke="#000" stroke-width="1.1" />
<line x1="332.3" y1="704.2" x2="328.8" y2="704.2" stroke="#000" stroke-width="1.1" />
<line x1="90.3" y1="687.92" x2="92.05" y2="687.92" stroke="#000" stroke-width="1.1" />
<line x1="332.3" y1="687.92" x2="330.55" y2="687.92" stroke="#000" stroke-width="1.1" />
<text transform="translate(103.3 792.33) scale(1 1.04)" font-size="21" text-anchor="middle" >300</text>
<text transform="translate(179.63 792.33) scale(1 1.04)" font-size="21" text-anchor="middle" >450</text>
<text transform="translate(255.97 792.33) scale(1 1.04)" font-size="21" text-anchor="middle" >600</text>
<text transform="translate(332.3 792.33) scale(1 1.04)" font-size="21" text-anchor="middle" >750</text>
<text transform="translate(85.6 577.73) scale(1 1.04)" font-size="21" text-anchor="end" >12.0</text>
<text transform="translate(85.6 609.93) scale(1 1.04)" font-size="21" text-anchor="end" >11.8</text>
<text transform="translate(85.6 642.13) scale(1 1.04)" font-size="21" text-anchor="end" >11.6</text>
<text transform="translate(85.6 674.33) scale(1 1.04)" font-size="21" text-anchor="end" >11.4</text>
<text transform="translate(85.6 710.93) scale(1 1.04)" font-size="21" text-anchor="end" >4.4</text>
<text transform="translate(85.6 743.48) scale(1 1.04)" font-size="21" text-anchor="end" >4.2</text>
<text transform="translate(85.6 776.03) scale(1 1.04)" font-size="21" text-anchor="end" >4.0</text>
<text transform="translate(211.3 822.2) scale(1 1.03)" font-size="21.3" text-anchor="middle" ><tspan font-style="italic">T</tspan> (K)</text>
<text transform="translate(35 669) rotate(-90) scale(1 1.03)" font-size="21" text-anchor="middle">Lattice Parameters (Å)</text>
<text transform="translate(36 560.8) scale(1.1 1)" font-size="25" text-anchor="end" font-weight="bold" >e</text>
<line x1="450.9" y1="647.6" x2="460.4" y2="645.9" stroke="#e08088" stroke-width="2.6" />
<line x1="460.4" y1="645.9" x2="469.9" y2="644.2" stroke="#a6b0b8" stroke-width="2.6" />
<line x1="450.9" y1="647.6" x2="448.05" y2="661.35" stroke="#e08088" stroke-width="2.6" />
<line x1="448.05" y1="661.35" x2="445.2" y2="675.1" stroke="#a6b0b8" stroke-width="2.6" />
<line x1="469.9" y1="644.2" x2="472.45" y2="658.05" stroke="#a6b0b8" stroke-width="2.6" />
<line x1="472.45" y1="658.05" x2="475" y2="671.9" stroke="#e08088" stroke-width="2.6" />
<line x1="475" y1="671.9" x2="484.55" y2="673.5" stroke="#e08088" stroke-width="2.6" />
<line x1="484.55" y1="673.5" x2="494.1" y2="675.1" stroke="#a6b0b8" stroke-width="2.6" />
<line x1="494.1" y1="675.1" x2="496.95" y2="661.15" stroke="#a6b0b8" stroke-width="2.6" />
<line x1="496.95" y1="661.15" x2="499.8" y2="647.2" stroke="#e08088" stroke-width="2.6" />
<line x1="499.8" y1="647.2" x2="509.05" y2="645.7" stroke="#e08088" stroke-width="2.6" />
<line x1="509.05" y1="645.7" x2="518.3" y2="644.2" stroke="#a6b0b8" stroke-width="2.6" />
<line x1="518.3" y1="644.2" x2="521.3" y2="658.05" stroke="#a6b0b8" stroke-width="2.6" />
<line x1="521.3" y1="658.05" x2="524.3" y2="671.9" stroke="#e08088" stroke-width="2.6" />
<circle cx="450.9" cy="647.6" r="4.2" fill="url(#gse)"/>
<circle cx="469.9" cy="644.2" r="6.3" fill="url(#gsn)"/>
<circle cx="499.8" cy="647.2" r="4.2" fill="url(#gse)"/>
<circle cx="518.3" cy="644.2" r="6.3" fill="url(#gsn)"/>
<circle cx="445.2" cy="675.1" r="6.3" fill="url(#gsn)"/>
<circle cx="475" cy="671.9" r="4.2" fill="url(#gse)"/>
<circle cx="494.1" cy="675.1" r="6.3" fill="url(#gsn)"/>
<circle cx="524.3" cy="671.9" r="4.2" fill="url(#gse)"/>
<line x1="457.5" y1="704.5" x2="466.7" y2="706.2" stroke="#a6b0b8" stroke-width="2.6" />
<line x1="466.7" y1="706.2" x2="475.9" y2="707.9" stroke="#e08088" stroke-width="2.6" />
<line x1="457.5" y1="704.5" x2="454.45" y2="718.55" stroke="#a6b0b8" stroke-width="2.6" />
<line x1="454.45" y1="718.55" x2="451.4" y2="732.6" stroke="#e08088" stroke-width="2.6" />
<line x1="475.9" y1="707.9" x2="478.75" y2="721.85" stroke="#e08088" stroke-width="2.6" />
<line x1="478.75" y1="721.85" x2="481.6" y2="735.8" stroke="#a6b0b8" stroke-width="2.6" />
<line x1="481.6" y1="735.8" x2="491.1" y2="734.2" stroke="#a6b0b8" stroke-width="2.6" />
<line x1="491.1" y1="734.2" x2="500.6" y2="732.6" stroke="#e08088" stroke-width="2.6" />
<line x1="505.9" y1="704.5" x2="515.4" y2="706.2" stroke="#a6b0b8" stroke-width="2.6" />
<line x1="515.4" y1="706.2" x2="524.9" y2="707.9" stroke="#e08088" stroke-width="2.6" />
<line x1="500.6" y1="732.6" x2="503.25" y2="718.55" stroke="#e08088" stroke-width="2.6" />
<line x1="503.25" y1="718.55" x2="505.9" y2="704.5" stroke="#a6b0b8" stroke-width="2.6" />
<circle cx="457.5" cy="704.5" r="6.3" fill="url(#gsn)"/>
<circle cx="475.9" cy="707.9" r="4.2" fill="url(#gse)"/>
<circle cx="451.4" cy="732.6" r="4.2" fill="url(#gse)"/>
<circle cx="481.6" cy="735.8" r="6.3" fill="url(#gsn)"/>
<circle cx="500.6" cy="732.6" r="4.2" fill="url(#gse)"/>
<circle cx="505.9" cy="704.5" r="6.3" fill="url(#gsn)"/>
<circle cx="524.9" cy="707.9" r="4.2" fill="url(#gse)"/>
<path d="M505.5,704 L497.2,746.5" stroke="#6a2bb0" stroke-width="2.3" stroke-dasharray="4.3,1.5" fill="none"/>
<path d="M505.5,704 L506.8,746.5" stroke="#6a2bb0" stroke-width="2.3" stroke-dasharray="4.3,1.5" fill="none"/>
<path d="M498.8,737.5 Q502.5,742.5 506.6,738" stroke="#6a2bb0" stroke-width="1.6" fill="none"/>
<text transform="translate(502.6 761.5) scale(1 1.03)" font-size="16" text-anchor="middle" font-weight="bold" font-style="italic" fill="#6a2bb0" ><tspan font-family="Liberation Serif">θ</tspan></text>
<text transform="translate(460.4 698.5) scale(1 1.03)" font-size="14.5" text-anchor="middle" fill="#7a7a7a" >Sn</text>
<text transform="translate(454.7 753.2) scale(1 1.03)" font-size="14.5" text-anchor="middle" fill="#e07070" >Se</text>
<path d="M563,736.2 V715 M563,736.2 H541" stroke="#808080" stroke-width="2" fill="none"/>
<path d="M563,710.5 L559.5,717.5 L566.5,717.5 Z M536.5,736.2 L543.5,732.7 L543.5,739.7 Z" fill="#808080"/>
<text transform="translate(566.8 710.3) scale(1 1.03)" font-size="15" font-style="italic" fill="#8a8a8a" >a</text>
<text transform="translate(573 744) scale(1 1.03)" font-size="15" font-style="italic" fill="#8a8a8a" >b</text>
<text transform="translate(528.2 742.6) scale(1 1.03)" font-size="15" font-style="italic" fill="#8a8a8a" >c</text>
<path d="M439.6,585.6 C441.55,586.38 445.1,588.95 451.28,590.3 C457.46,591.65 468.22,591.42 476.68,593.7 C485.15,595.98 493.62,600.48 502.08,604 C510.55,607.52 519.02,611.6 527.48,614.8 C535.95,618 544.42,619.43 552.88,623.2 C561.35,626.97 569.82,631.97 578.28,637.4 C586.75,642.83 595.22,648.52 603.68,655.8 C612.15,663.08 620.62,669.7 629.08,681.1 C637.55,692.5 650.25,717.02 654.48,724.2" fill="none" stroke="#3a3a3a" stroke-width="1.3"/>
<path d="M439.6,589.9 C441.55,590 445.1,588.82 451.28,590.5 C457.46,592.18 468.22,597.63 476.68,600 C485.15,602.37 493.62,602.12 502.08,604.7 C510.55,607.28 519.02,613.3 527.48,615.5 C535.95,617.7 544.42,613.87 552.88,617.9 C561.35,621.93 569.82,631.67 578.28,639.7 C586.75,647.73 595.22,658.45 603.68,666.1 C612.15,673.75 620.62,675.65 629.08,685.6 C637.55,695.55 650.25,719.1 654.48,725.8" fill="none" stroke="#f04040" stroke-width="1.3"/>
<path d="M439.6,598.1 C441.55,598.38 445.1,598.4 451.28,599.8 C457.46,601.2 468.22,603.8 476.68,606.5 C485.15,609.2 493.62,612.25 502.08,616 C510.55,619.75 519.02,624.5 527.48,629 C535.95,633.5 544.42,638.67 552.88,643 C561.35,647.33 572.1,651.17 578.28,655 C584.47,658.83 585.78,660.7 590,666 C594.22,671.3 599.93,679.97 603.6,686.8 C607.27,693.63 609.27,700.63 612,707 C614.73,713.37 617.17,720.33 620,725 C622.83,729.67 625.67,732.75 629,735 C632.33,737.25 635.82,737.92 640,738.5 C644.18,739.08 651.75,738.5 654.1,738.5" fill="none" stroke="#1ec8c8" stroke-width="1.3"/>
<circle cx="439.6" cy="585.6" r="4.1" fill="url(#gdg)"/>
<circle cx="451.28" cy="590.3" r="4.1" fill="url(#gdg)"/>
<circle cx="476.68" cy="593.7" r="4.1" fill="url(#gdg)"/>
<circle cx="502.08" cy="604" r="4.1" fill="url(#gdg)"/>
<circle cx="527.48" cy="614.8" r="4.1" fill="url(#gdg)"/>
<circle cx="552.88" cy="623.2" r="4.1" fill="url(#gdg)"/>
<circle cx="578.28" cy="637.4" r="4.1" fill="url(#gdg)"/>
<circle cx="603.68" cy="655.8" r="4.1" fill="url(#gdg)"/>
<circle cx="629.08" cy="681.1" r="4.1" fill="url(#gdg)"/>
<circle cx="654.48" cy="724.2" r="4.1" fill="url(#gdg)"/>
<circle cx="439.6" cy="589.9" r="4.1" fill="url(#gr)"/>
<circle cx="451.28" cy="590.5" r="4.1" fill="url(#gr)"/>
<circle cx="476.68" cy="600" r="4.1" fill="url(#gr)"/>
<circle cx="502.08" cy="604.7" r="4.1" fill="url(#gr)"/>
<circle cx="527.48" cy="615.5" r="4.1" fill="url(#gr)"/>
<circle cx="552.88" cy="617.9" r="4.1" fill="url(#gr)"/>
<circle cx="578.28" cy="639.7" r="4.1" fill="url(#gr)"/>
<circle cx="603.68" cy="666.1" r="4.1" fill="url(#gr)"/>
<circle cx="629.08" cy="685.6" r="4.1" fill="url(#gr)"/>
<circle cx="654.48" cy="725.8" r="4.1" fill="url(#gr)"/>
<circle cx="439.6" cy="598.1" r="4.1" fill="url(#gc)"/>
<circle cx="451.28" cy="598.5" r="4.1" fill="url(#gc)"/>
<circle cx="476.68" cy="607.4" r="4.1" fill="url(#gc)"/>
<circle cx="502.08" cy="615.5" r="4.1" fill="url(#gc)"/>
<circle cx="527.48" cy="627.9" r="4.1" fill="url(#gc)"/>
<circle cx="552.88" cy="648.2" r="4.1" fill="url(#gc)"/>
<circle cx="578.28" cy="653.5" r="4.1" fill="url(#gc)"/>
<circle cx="603.68" cy="686.8" r="4.1" fill="url(#gc)"/>
<circle cx="629.08" cy="738" r="4.1" fill="url(#gc)"/>
<circle cx="654.48" cy="738.5" r="4.1" fill="url(#gc)"/>
<line x1="547.3" y1="578.6" x2="574.5" y2="578.6" stroke="#3a3a3a" stroke-width="1.3" />
<circle cx="561.1" cy="578.6" r="4.1" fill="url(#gdg)"/>
<text transform="translate(577.4 583) scale(1 1.03)" font-size="12.5" >SnSe</text>
<line x1="547.3" y1="593.8" x2="574.5" y2="593.8" stroke="#f04040" stroke-width="1.3" />
<circle cx="561.1" cy="593.8" r="4.1" fill="url(#gr)"/>
<text transform="translate(577.4 598.2) scale(1 1.03)" font-size="12.5" >SnSe-0.75%Te</text>
<line x1="547.3" y1="609" x2="574.5" y2="609" stroke="#1ec8c8" stroke-width="1.3" />
<circle cx="561.1" cy="609" r="4.1" fill="url(#gc)"/>
<text transform="translate(577.4 613.4) scale(1 1.03)" font-size="12.5" >SnSe-0.75%Te</text>
<text transform="translate(577.4 628.8) scale(1 1.03)" font-size="12.5" >-0.7%Mo</text>
<rect x="426" y="569.5" width="242.2" height="198.5" fill="none" stroke="#000" stroke-width="1.2"/>
<line x1="439.6" y1="768" x2="439.6" y2="771.5" stroke="#000" stroke-width="1.1" />
<line x1="439.6" y1="569.5" x2="439.6" y2="573" stroke="#000" stroke-width="1.1" />
<line x1="477.7" y1="768" x2="477.7" y2="769.75" stroke="#000" stroke-width="1.1" />
<line x1="477.7" y1="569.5" x2="477.7" y2="571.25" stroke="#000" stroke-width="1.1" />
<line x1="515.8" y1="768" x2="515.8" y2="771.5" stroke="#000" stroke-width="1.1" />
<line x1="515.8" y1="569.5" x2="515.8" y2="573" stroke="#000" stroke-width="1.1" />
<line x1="553.9" y1="768" x2="553.9" y2="769.75" stroke="#000" stroke-width="1.1" />
<line x1="553.9" y1="569.5" x2="553.9" y2="571.25" stroke="#000" stroke-width="1.1" />
<line x1="592" y1="768" x2="592" y2="771.5" stroke="#000" stroke-width="1.1" />
<line x1="592" y1="569.5" x2="592" y2="573" stroke="#000" stroke-width="1.1" />
<line x1="630.1" y1="768" x2="630.1" y2="769.75" stroke="#000" stroke-width="1.1" />
<line x1="630.1" y1="569.5" x2="630.1" y2="571.25" stroke="#000" stroke-width="1.1" />
<line x1="668.2" y1="768" x2="668.2" y2="771.5" stroke="#000" stroke-width="1.1" />
<line x1="668.2" y1="569.5" x2="668.2" y2="573" stroke="#000" stroke-width="1.1" />
<line x1="426" y1="752.33" x2="427.75" y2="752.33" stroke="#000" stroke-width="1.1" />
<line x1="668.2" y1="752.33" x2="666.45" y2="752.33" stroke="#000" stroke-width="1.1" />
<line x1="426" y1="736.67" x2="429.5" y2="736.67" stroke="#000" stroke-width="1.1" />
<line x1="668.2" y1="736.67" x2="664.7" y2="736.67" stroke="#000" stroke-width="1.1" />
<line x1="426" y1="721" x2="427.75" y2="721" stroke="#000" stroke-width="1.1" />
<line x1="668.2" y1="721" x2="666.45" y2="721" stroke="#000" stroke-width="1.1" />
<line x1="426" y1="705.33" x2="429.5" y2="705.33" stroke="#000" stroke-width="1.1" />
<line x1="668.2" y1="705.33" x2="664.7" y2="705.33" stroke="#000" stroke-width="1.1" />
<line x1="426" y1="689.67" x2="427.75" y2="689.67" stroke="#000" stroke-width="1.1" />
<line x1="668.2" y1="689.67" x2="666.45" y2="689.67" stroke="#000" stroke-width="1.1" />
<line x1="426" y1="674" x2="429.5" y2="674" stroke="#000" stroke-width="1.1" />
<line x1="668.2" y1="674" x2="664.7" y2="674" stroke="#000" stroke-width="1.1" />
<line x1="426" y1="658.33" x2="427.75" y2="658.33" stroke="#000" stroke-width="1.1" />
<line x1="668.2" y1="658.33" x2="666.45" y2="658.33" stroke="#000" stroke-width="1.1" />
<line x1="426" y1="642.67" x2="429.5" y2="642.67" stroke="#000" stroke-width="1.1" />
<line x1="668.2" y1="642.67" x2="664.7" y2="642.67" stroke="#000" stroke-width="1.1" />
<line x1="426" y1="627" x2="427.75" y2="627" stroke="#000" stroke-width="1.1" />
<line x1="668.2" y1="627" x2="666.45" y2="627" stroke="#000" stroke-width="1.1" />
<line x1="426" y1="611.33" x2="429.5" y2="611.33" stroke="#000" stroke-width="1.1" />
<line x1="668.2" y1="611.33" x2="664.7" y2="611.33" stroke="#000" stroke-width="1.1" />
<line x1="426" y1="595.67" x2="427.75" y2="595.67" stroke="#000" stroke-width="1.1" />
<line x1="668.2" y1="595.67" x2="666.45" y2="595.67" stroke="#000" stroke-width="1.1" />
<line x1="426" y1="580" x2="429.5" y2="580" stroke="#000" stroke-width="1.1" />
<line x1="668.2" y1="580" x2="664.7" y2="580" stroke="#000" stroke-width="1.1" />
<text transform="translate(439.6 791.03) scale(1 1.04)" font-size="21" text-anchor="middle" >300</text>
<text transform="translate(515.8 791.03) scale(1 1.04)" font-size="21" text-anchor="middle" >450</text>
<text transform="translate(592 791.03) scale(1 1.04)" font-size="21" text-anchor="middle" >600</text>
<text transform="translate(668.2 791.03) scale(1 1.04)" font-size="21" text-anchor="middle" >750</text>
<text transform="translate(422.4 774.73) scale(1 1.04)" font-size="21" text-anchor="end" >0.0</text>
<text transform="translate(422.4 743.4) scale(1 1.04)" font-size="21" text-anchor="end" >1.5</text>
<text transform="translate(422.4 712.07) scale(1 1.04)" font-size="21" text-anchor="end" >3.0</text>
<text transform="translate(422.4 680.73) scale(1 1.04)" font-size="21" text-anchor="end" >4.5</text>
<text transform="translate(422.4 649.4) scale(1 1.04)" font-size="21" text-anchor="end" >6.0</text>
<text transform="translate(422.4 618.07) scale(1 1.04)" font-size="21" text-anchor="end" >7.5</text>
<text transform="translate(422.4 586.73) scale(1 1.04)" font-size="21" text-anchor="end" >9.0</text>
<text transform="translate(547.5 821.3) scale(1 1.03)" font-size="21.3" text-anchor="middle" ><tspan font-style="italic">T</tspan> (K)</text>
<text transform="translate(382.6 668.2) rotate(-90) scale(1 1.03)" font-size="21" text-anchor="middle"><tspan font-style="italic" font-family="Liberation Serif" font-size="23">θ</tspan> (°)</text>
<text transform="translate(376 561.4) scale(1.1 1)" font-size="25" text-anchor="end" font-weight="bold" >f</text>
</svg></body></html>
